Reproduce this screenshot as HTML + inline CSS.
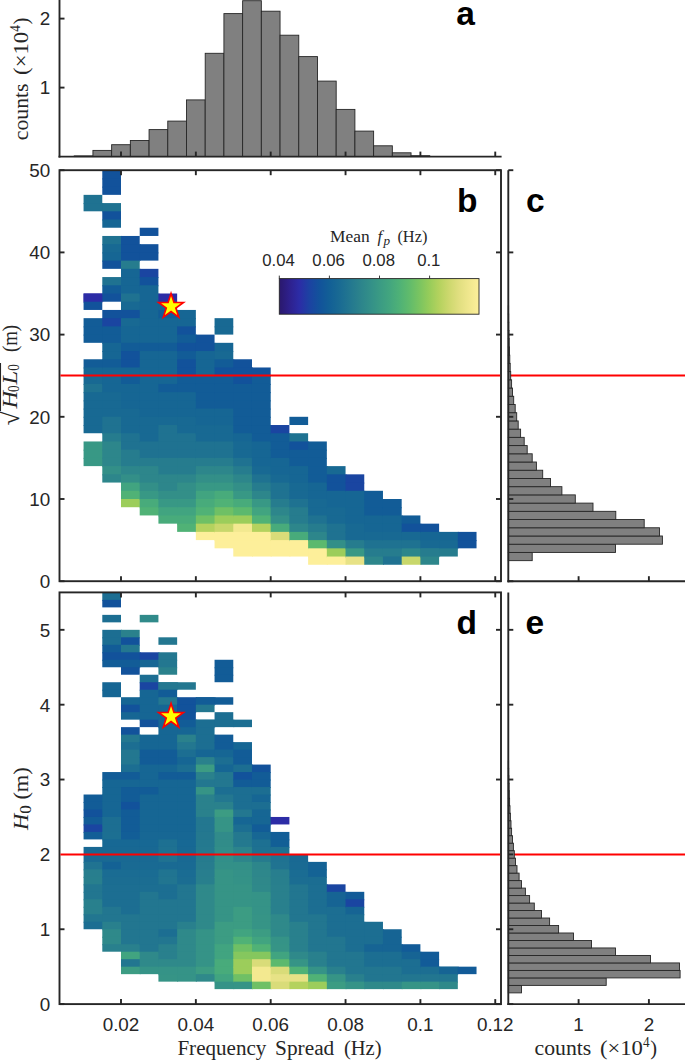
<!DOCTYPE html>
<html><head><meta charset="utf-8"><title>Figure</title>
<style>html,body{margin:0;padding:0;background:#fff;}svg{display:block;}</style>
</head><body>
<svg width="685" height="1060" viewBox="0 0 685 1060">
<rect width="685" height="1060" fill="#ffffff"/>
<g>
<rect x="83.57" y="194.86" width="18.71" height="9.22" fill="#1f7291"/>
<rect x="83.57" y="203.08" width="19.71" height="8.22" fill="#1f7291"/>
<rect x="83.57" y="293.50" width="19.71" height="8.22" fill="#2c2ca6"/>
<rect x="83.57" y="293.50" width="18.71" height="9.22" fill="#2c2ca6"/>
<rect x="83.57" y="301.72" width="18.71" height="8.22" fill="#12529b"/>
<rect x="83.57" y="318.16" width="19.71" height="9.22" fill="#125c97"/>
<rect x="83.57" y="326.38" width="19.71" height="9.22" fill="#125c97"/>
<rect x="83.57" y="334.60" width="19.71" height="8.22" fill="#125c97"/>
<rect x="83.57" y="359.26" width="19.71" height="9.22" fill="#125c97"/>
<rect x="83.57" y="367.48" width="19.71" height="9.22" fill="#166694"/>
<rect x="83.57" y="375.70" width="19.71" height="9.22" fill="#186993"/>
<rect x="83.57" y="383.92" width="19.71" height="9.22" fill="#1f7291"/>
<rect x="83.57" y="392.14" width="19.71" height="9.22" fill="#186993"/>
<rect x="83.57" y="400.36" width="19.71" height="9.22" fill="#186993"/>
<rect x="83.57" y="408.58" width="19.71" height="9.22" fill="#186993"/>
<rect x="83.57" y="416.80" width="19.71" height="9.22" fill="#186993"/>
<rect x="83.57" y="425.02" width="19.71" height="8.22" fill="#186993"/>
<rect x="83.57" y="441.46" width="19.71" height="9.22" fill="#389885"/>
<rect x="83.57" y="449.68" width="19.71" height="9.22" fill="#389885"/>
<rect x="83.57" y="457.90" width="19.71" height="8.22" fill="#389885"/>
<rect x="102.29" y="170.20" width="18.71" height="9.22" fill="#12529b"/>
<rect x="102.29" y="178.42" width="18.71" height="9.22" fill="#12529b"/>
<rect x="102.29" y="186.64" width="18.71" height="8.22" fill="#12529b"/>
<rect x="102.29" y="203.08" width="18.71" height="9.22" fill="#1f7291"/>
<rect x="102.29" y="211.30" width="18.71" height="9.22" fill="#12529b"/>
<rect x="102.29" y="219.52" width="18.71" height="8.22" fill="#166694"/>
<rect x="102.29" y="235.96" width="19.71" height="9.22" fill="#1f7291"/>
<rect x="102.29" y="244.18" width="19.71" height="9.22" fill="#186993"/>
<rect x="102.29" y="252.40" width="19.71" height="9.22" fill="#166694"/>
<rect x="102.29" y="260.62" width="19.71" height="8.22" fill="#12529b"/>
<rect x="102.29" y="277.06" width="19.71" height="9.22" fill="#1f7291"/>
<rect x="102.29" y="285.28" width="19.71" height="9.22" fill="#125c97"/>
<rect x="102.29" y="293.50" width="19.71" height="8.22" fill="#12529b"/>
<rect x="102.29" y="309.94" width="19.71" height="9.22" fill="#12529b"/>
<rect x="102.29" y="318.16" width="19.71" height="9.22" fill="#1a45a1"/>
<rect x="102.29" y="326.38" width="19.71" height="9.22" fill="#125c97"/>
<rect x="102.29" y="334.60" width="19.71" height="9.22" fill="#125c97"/>
<rect x="102.29" y="342.82" width="19.71" height="9.22" fill="#166694"/>
<rect x="102.29" y="351.04" width="19.71" height="9.22" fill="#166694"/>
<rect x="102.29" y="359.26" width="19.71" height="9.22" fill="#125c97"/>
<rect x="102.29" y="367.48" width="19.71" height="9.22" fill="#166694"/>
<rect x="102.29" y="375.70" width="19.71" height="9.22" fill="#166694"/>
<rect x="102.29" y="383.92" width="19.71" height="9.22" fill="#166694"/>
<rect x="102.29" y="392.14" width="19.71" height="9.22" fill="#186993"/>
<rect x="102.29" y="400.36" width="19.71" height="9.22" fill="#186993"/>
<rect x="102.29" y="408.58" width="19.71" height="9.22" fill="#186993"/>
<rect x="102.29" y="416.80" width="19.71" height="9.22" fill="#1f7291"/>
<rect x="102.29" y="425.02" width="19.71" height="9.22" fill="#1f7291"/>
<rect x="102.29" y="433.24" width="19.71" height="9.22" fill="#267c8e"/>
<rect x="102.29" y="441.46" width="19.71" height="9.22" fill="#2d868b"/>
<rect x="102.29" y="449.68" width="19.71" height="9.22" fill="#2d868b"/>
<rect x="102.29" y="457.90" width="19.71" height="9.22" fill="#2d868b"/>
<rect x="102.29" y="466.12" width="19.71" height="9.22" fill="#338f88"/>
<rect x="102.29" y="474.34" width="19.71" height="8.22" fill="#2d868b"/>
<rect x="121.00" y="235.96" width="18.71" height="9.22" fill="#12529b"/>
<rect x="121.00" y="244.18" width="19.71" height="9.22" fill="#12529b"/>
<rect x="121.00" y="252.40" width="19.71" height="8.22" fill="#12529b"/>
<rect x="121.00" y="252.40" width="18.71" height="9.22" fill="#12529b"/>
<rect x="121.00" y="260.62" width="18.71" height="9.22" fill="#267c8e"/>
<rect x="121.00" y="268.84" width="19.71" height="9.22" fill="#166694"/>
<rect x="121.00" y="277.06" width="19.71" height="9.22" fill="#166694"/>
<rect x="121.00" y="285.28" width="19.71" height="9.22" fill="#166694"/>
<rect x="121.00" y="293.50" width="19.71" height="9.22" fill="#1f7291"/>
<rect x="121.00" y="301.72" width="19.71" height="9.22" fill="#186993"/>
<rect x="121.00" y="309.94" width="19.71" height="9.22" fill="#12529b"/>
<rect x="121.00" y="318.16" width="19.71" height="9.22" fill="#186993"/>
<rect x="121.00" y="326.38" width="19.71" height="9.22" fill="#166694"/>
<rect x="121.00" y="334.60" width="19.71" height="9.22" fill="#166694"/>
<rect x="121.00" y="342.82" width="19.71" height="9.22" fill="#125c97"/>
<rect x="121.00" y="351.04" width="19.71" height="9.22" fill="#12529b"/>
<rect x="121.00" y="359.26" width="19.71" height="9.22" fill="#12529b"/>
<rect x="121.00" y="367.48" width="19.71" height="9.22" fill="#166694"/>
<rect x="121.00" y="375.70" width="19.71" height="9.22" fill="#125c97"/>
<rect x="121.00" y="383.92" width="19.71" height="9.22" fill="#166694"/>
<rect x="121.00" y="392.14" width="19.71" height="9.22" fill="#166694"/>
<rect x="121.00" y="400.36" width="19.71" height="9.22" fill="#166694"/>
<rect x="121.00" y="408.58" width="19.71" height="9.22" fill="#186993"/>
<rect x="121.00" y="416.80" width="19.71" height="9.22" fill="#186993"/>
<rect x="121.00" y="425.02" width="19.71" height="9.22" fill="#186993"/>
<rect x="121.00" y="433.24" width="19.71" height="9.22" fill="#1f7291"/>
<rect x="121.00" y="441.46" width="19.71" height="9.22" fill="#1f7291"/>
<rect x="121.00" y="449.68" width="19.71" height="9.22" fill="#267c8e"/>
<rect x="121.00" y="457.90" width="19.71" height="9.22" fill="#267c8e"/>
<rect x="121.00" y="466.12" width="19.71" height="9.22" fill="#2d868b"/>
<rect x="121.00" y="474.34" width="19.71" height="9.22" fill="#338f88"/>
<rect x="121.00" y="482.56" width="19.71" height="9.22" fill="#41a480"/>
<rect x="121.00" y="490.78" width="19.71" height="9.22" fill="#50b276"/>
<rect x="121.00" y="499.00" width="19.71" height="8.22" fill="#9ccd5b"/>
<rect x="139.71" y="227.74" width="18.71" height="8.22" fill="#12529b"/>
<rect x="139.71" y="244.18" width="18.71" height="9.22" fill="#12529b"/>
<rect x="139.71" y="252.40" width="18.71" height="8.22" fill="#12529b"/>
<rect x="139.71" y="268.84" width="18.71" height="9.22" fill="#1a45a1"/>
<rect x="139.71" y="277.06" width="18.71" height="9.22" fill="#12529b"/>
<rect x="139.71" y="285.28" width="18.71" height="9.22" fill="#166694"/>
<rect x="139.71" y="293.50" width="19.71" height="9.22" fill="#166694"/>
<rect x="139.71" y="301.72" width="19.71" height="9.22" fill="#166694"/>
<rect x="139.71" y="309.94" width="19.71" height="9.22" fill="#166694"/>
<rect x="139.71" y="318.16" width="19.71" height="9.22" fill="#166694"/>
<rect x="139.71" y="326.38" width="19.71" height="9.22" fill="#166694"/>
<rect x="139.71" y="334.60" width="19.71" height="9.22" fill="#166694"/>
<rect x="139.71" y="342.82" width="19.71" height="9.22" fill="#125c97"/>
<rect x="139.71" y="351.04" width="19.71" height="9.22" fill="#166694"/>
<rect x="139.71" y="359.26" width="19.71" height="9.22" fill="#166694"/>
<rect x="139.71" y="367.48" width="19.71" height="9.22" fill="#166694"/>
<rect x="139.71" y="375.70" width="19.71" height="9.22" fill="#166694"/>
<rect x="139.71" y="383.92" width="19.71" height="9.22" fill="#166694"/>
<rect x="139.71" y="392.14" width="19.71" height="9.22" fill="#166694"/>
<rect x="139.71" y="400.36" width="19.71" height="9.22" fill="#166694"/>
<rect x="139.71" y="408.58" width="19.71" height="9.22" fill="#166694"/>
<rect x="139.71" y="416.80" width="19.71" height="9.22" fill="#186993"/>
<rect x="139.71" y="425.02" width="19.71" height="9.22" fill="#186993"/>
<rect x="139.71" y="433.24" width="19.71" height="9.22" fill="#186993"/>
<rect x="139.71" y="441.46" width="19.71" height="9.22" fill="#1f7291"/>
<rect x="139.71" y="449.68" width="19.71" height="9.22" fill="#1f7291"/>
<rect x="139.71" y="457.90" width="19.71" height="9.22" fill="#267c8e"/>
<rect x="139.71" y="466.12" width="19.71" height="9.22" fill="#2d868b"/>
<rect x="139.71" y="474.34" width="19.71" height="9.22" fill="#2d868b"/>
<rect x="139.71" y="482.56" width="19.71" height="9.22" fill="#338f88"/>
<rect x="139.71" y="490.78" width="19.71" height="9.22" fill="#389885"/>
<rect x="139.71" y="499.00" width="19.71" height="9.22" fill="#48ab7b"/>
<rect x="139.71" y="507.22" width="19.71" height="8.22" fill="#50b276"/>
<rect x="158.43" y="293.50" width="18.71" height="9.22" fill="#2c2ca6"/>
<rect x="158.43" y="301.72" width="18.71" height="9.22" fill="#166694"/>
<rect x="158.43" y="309.94" width="19.71" height="9.22" fill="#125c97"/>
<rect x="158.43" y="318.16" width="19.71" height="9.22" fill="#166694"/>
<rect x="158.43" y="326.38" width="19.71" height="9.22" fill="#166694"/>
<rect x="158.43" y="334.60" width="19.71" height="9.22" fill="#166694"/>
<rect x="158.43" y="342.82" width="19.71" height="9.22" fill="#125c97"/>
<rect x="158.43" y="351.04" width="19.71" height="9.22" fill="#166694"/>
<rect x="158.43" y="359.26" width="19.71" height="9.22" fill="#166694"/>
<rect x="158.43" y="367.48" width="19.71" height="9.22" fill="#166694"/>
<rect x="158.43" y="375.70" width="19.71" height="9.22" fill="#166694"/>
<rect x="158.43" y="383.92" width="19.71" height="9.22" fill="#125c97"/>
<rect x="158.43" y="392.14" width="19.71" height="9.22" fill="#166694"/>
<rect x="158.43" y="400.36" width="19.71" height="9.22" fill="#166694"/>
<rect x="158.43" y="408.58" width="19.71" height="9.22" fill="#166694"/>
<rect x="158.43" y="416.80" width="19.71" height="9.22" fill="#186993"/>
<rect x="158.43" y="425.02" width="19.71" height="9.22" fill="#1f7291"/>
<rect x="158.43" y="433.24" width="19.71" height="9.22" fill="#1f7291"/>
<rect x="158.43" y="441.46" width="19.71" height="9.22" fill="#1f7291"/>
<rect x="158.43" y="449.68" width="19.71" height="9.22" fill="#1f7291"/>
<rect x="158.43" y="457.90" width="19.71" height="9.22" fill="#267c8e"/>
<rect x="158.43" y="466.12" width="19.71" height="9.22" fill="#267c8e"/>
<rect x="158.43" y="474.34" width="19.71" height="9.22" fill="#2d868b"/>
<rect x="158.43" y="482.56" width="19.71" height="9.22" fill="#2d868b"/>
<rect x="158.43" y="490.78" width="19.71" height="9.22" fill="#338f88"/>
<rect x="158.43" y="499.00" width="19.71" height="9.22" fill="#389885"/>
<rect x="158.43" y="507.22" width="19.71" height="9.22" fill="#41a480"/>
<rect x="158.43" y="515.44" width="19.71" height="8.22" fill="#48ab7b"/>
<rect x="177.14" y="309.94" width="18.71" height="9.22" fill="#166694"/>
<rect x="177.14" y="318.16" width="18.71" height="9.22" fill="#166694"/>
<rect x="177.14" y="326.38" width="18.71" height="9.22" fill="#12529b"/>
<rect x="177.14" y="334.60" width="19.71" height="9.22" fill="#125c97"/>
<rect x="177.14" y="342.82" width="19.71" height="9.22" fill="#12529b"/>
<rect x="177.14" y="351.04" width="19.71" height="9.22" fill="#125c97"/>
<rect x="177.14" y="359.26" width="19.71" height="9.22" fill="#12529b"/>
<rect x="177.14" y="367.48" width="19.71" height="9.22" fill="#12529b"/>
<rect x="177.14" y="375.70" width="19.71" height="9.22" fill="#125c97"/>
<rect x="177.14" y="383.92" width="19.71" height="9.22" fill="#125c97"/>
<rect x="177.14" y="392.14" width="19.71" height="9.22" fill="#166694"/>
<rect x="177.14" y="400.36" width="19.71" height="9.22" fill="#166694"/>
<rect x="177.14" y="408.58" width="19.71" height="9.22" fill="#166694"/>
<rect x="177.14" y="416.80" width="19.71" height="9.22" fill="#186993"/>
<rect x="177.14" y="425.02" width="19.71" height="9.22" fill="#186993"/>
<rect x="177.14" y="433.24" width="19.71" height="9.22" fill="#1f7291"/>
<rect x="177.14" y="441.46" width="19.71" height="9.22" fill="#1f7291"/>
<rect x="177.14" y="449.68" width="19.71" height="9.22" fill="#1f7291"/>
<rect x="177.14" y="457.90" width="19.71" height="9.22" fill="#267c8e"/>
<rect x="177.14" y="466.12" width="19.71" height="9.22" fill="#267c8e"/>
<rect x="177.14" y="474.34" width="19.71" height="9.22" fill="#2d868b"/>
<rect x="177.14" y="482.56" width="19.71" height="9.22" fill="#338f88"/>
<rect x="177.14" y="490.78" width="19.71" height="9.22" fill="#338f88"/>
<rect x="177.14" y="499.00" width="19.71" height="9.22" fill="#389885"/>
<rect x="177.14" y="507.22" width="19.71" height="9.22" fill="#41a480"/>
<rect x="177.14" y="515.44" width="19.71" height="9.22" fill="#48ab7b"/>
<rect x="177.14" y="523.66" width="19.71" height="8.22" fill="#50b276"/>
<rect x="195.85" y="334.60" width="18.71" height="9.22" fill="#12529b"/>
<rect x="195.85" y="342.82" width="19.71" height="9.22" fill="#12529b"/>
<rect x="195.85" y="351.04" width="19.71" height="9.22" fill="#166694"/>
<rect x="195.85" y="359.26" width="19.71" height="9.22" fill="#166694"/>
<rect x="195.85" y="367.48" width="19.71" height="9.22" fill="#166694"/>
<rect x="195.85" y="375.70" width="19.71" height="9.22" fill="#125c97"/>
<rect x="195.85" y="383.92" width="19.71" height="9.22" fill="#125c97"/>
<rect x="195.85" y="392.14" width="19.71" height="9.22" fill="#125c97"/>
<rect x="195.85" y="400.36" width="19.71" height="9.22" fill="#125c97"/>
<rect x="195.85" y="408.58" width="19.71" height="9.22" fill="#166694"/>
<rect x="195.85" y="416.80" width="19.71" height="9.22" fill="#166694"/>
<rect x="195.85" y="425.02" width="19.71" height="9.22" fill="#186993"/>
<rect x="195.85" y="433.24" width="19.71" height="9.22" fill="#186993"/>
<rect x="195.85" y="441.46" width="19.71" height="9.22" fill="#1f7291"/>
<rect x="195.85" y="449.68" width="19.71" height="9.22" fill="#1f7291"/>
<rect x="195.85" y="457.90" width="19.71" height="9.22" fill="#267c8e"/>
<rect x="195.85" y="466.12" width="19.71" height="9.22" fill="#2d868b"/>
<rect x="195.85" y="474.34" width="19.71" height="9.22" fill="#338f88"/>
<rect x="195.85" y="482.56" width="19.71" height="9.22" fill="#389885"/>
<rect x="195.85" y="490.78" width="19.71" height="9.22" fill="#41a480"/>
<rect x="195.85" y="499.00" width="19.71" height="9.22" fill="#48ab7b"/>
<rect x="195.85" y="507.22" width="19.71" height="9.22" fill="#50b276"/>
<rect x="195.85" y="515.44" width="19.71" height="9.22" fill="#6fc065"/>
<rect x="195.85" y="523.66" width="19.71" height="9.22" fill="#b4d25e"/>
<rect x="195.85" y="531.88" width="19.71" height="8.22" fill="#fdef9a"/>
<rect x="214.56" y="318.16" width="18.71" height="9.22" fill="#186993"/>
<rect x="214.56" y="326.38" width="18.71" height="8.22" fill="#186993"/>
<rect x="214.56" y="342.82" width="18.71" height="9.22" fill="#166694"/>
<rect x="214.56" y="351.04" width="18.71" height="9.22" fill="#186993"/>
<rect x="214.56" y="359.26" width="19.71" height="9.22" fill="#125c97"/>
<rect x="214.56" y="367.48" width="19.71" height="9.22" fill="#12529b"/>
<rect x="214.56" y="375.70" width="19.71" height="9.22" fill="#125c97"/>
<rect x="214.56" y="383.92" width="19.71" height="9.22" fill="#125c97"/>
<rect x="214.56" y="392.14" width="19.71" height="9.22" fill="#125c97"/>
<rect x="214.56" y="400.36" width="19.71" height="9.22" fill="#125c97"/>
<rect x="214.56" y="408.58" width="19.71" height="9.22" fill="#166694"/>
<rect x="214.56" y="416.80" width="19.71" height="9.22" fill="#166694"/>
<rect x="214.56" y="425.02" width="19.71" height="9.22" fill="#186993"/>
<rect x="214.56" y="433.24" width="19.71" height="9.22" fill="#186993"/>
<rect x="214.56" y="441.46" width="19.71" height="9.22" fill="#1f7291"/>
<rect x="214.56" y="449.68" width="19.71" height="9.22" fill="#1f7291"/>
<rect x="214.56" y="457.90" width="19.71" height="9.22" fill="#267c8e"/>
<rect x="214.56" y="466.12" width="19.71" height="9.22" fill="#2d868b"/>
<rect x="214.56" y="474.34" width="19.71" height="9.22" fill="#338f88"/>
<rect x="214.56" y="482.56" width="19.71" height="9.22" fill="#389885"/>
<rect x="214.56" y="490.78" width="19.71" height="9.22" fill="#48ab7b"/>
<rect x="214.56" y="499.00" width="19.71" height="9.22" fill="#50b276"/>
<rect x="214.56" y="507.22" width="19.71" height="9.22" fill="#6fc065"/>
<rect x="214.56" y="515.44" width="19.71" height="9.22" fill="#9ccd5b"/>
<rect x="214.56" y="523.66" width="19.71" height="9.22" fill="#c8d76b"/>
<rect x="214.56" y="531.88" width="19.71" height="9.22" fill="#fdef9a"/>
<rect x="214.56" y="540.10" width="19.71" height="8.22" fill="#fdef9a"/>
<rect x="233.28" y="359.26" width="18.71" height="9.22" fill="#12529b"/>
<rect x="233.28" y="367.48" width="19.71" height="9.22" fill="#12529b"/>
<rect x="233.28" y="375.70" width="19.71" height="9.22" fill="#12529b"/>
<rect x="233.28" y="383.92" width="19.71" height="9.22" fill="#125c97"/>
<rect x="233.28" y="392.14" width="19.71" height="9.22" fill="#125c97"/>
<rect x="233.28" y="400.36" width="19.71" height="9.22" fill="#125c97"/>
<rect x="233.28" y="408.58" width="19.71" height="9.22" fill="#125c97"/>
<rect x="233.28" y="416.80" width="19.71" height="9.22" fill="#125c97"/>
<rect x="233.28" y="425.02" width="19.71" height="9.22" fill="#125c97"/>
<rect x="233.28" y="433.24" width="19.71" height="9.22" fill="#166694"/>
<rect x="233.28" y="441.46" width="19.71" height="9.22" fill="#186993"/>
<rect x="233.28" y="449.68" width="19.71" height="9.22" fill="#186993"/>
<rect x="233.28" y="457.90" width="19.71" height="9.22" fill="#1f7291"/>
<rect x="233.28" y="466.12" width="19.71" height="9.22" fill="#267c8e"/>
<rect x="233.28" y="474.34" width="19.71" height="9.22" fill="#2d868b"/>
<rect x="233.28" y="482.56" width="19.71" height="9.22" fill="#338f88"/>
<rect x="233.28" y="490.78" width="19.71" height="9.22" fill="#389885"/>
<rect x="233.28" y="499.00" width="19.71" height="9.22" fill="#48ab7b"/>
<rect x="233.28" y="507.22" width="19.71" height="9.22" fill="#5cb96e"/>
<rect x="233.28" y="515.44" width="19.71" height="9.22" fill="#9ccd5b"/>
<rect x="233.28" y="523.66" width="19.71" height="9.22" fill="#f3e990"/>
<rect x="233.28" y="531.88" width="19.71" height="9.22" fill="#fdef9a"/>
<rect x="233.28" y="540.10" width="19.71" height="9.22" fill="#fdef9a"/>
<rect x="233.28" y="548.32" width="19.71" height="8.22" fill="#fdef9a"/>
<rect x="251.99" y="367.48" width="18.71" height="9.22" fill="#12529b"/>
<rect x="251.99" y="375.70" width="18.71" height="9.22" fill="#125c97"/>
<rect x="251.99" y="383.92" width="18.71" height="9.22" fill="#125c97"/>
<rect x="251.99" y="392.14" width="18.71" height="9.22" fill="#125c97"/>
<rect x="251.99" y="400.36" width="18.71" height="9.22" fill="#125c97"/>
<rect x="251.99" y="408.58" width="18.71" height="9.22" fill="#125c97"/>
<rect x="251.99" y="416.80" width="18.71" height="9.22" fill="#125c97"/>
<rect x="251.99" y="425.02" width="19.71" height="9.22" fill="#125c97"/>
<rect x="251.99" y="433.24" width="19.71" height="9.22" fill="#125c97"/>
<rect x="251.99" y="441.46" width="19.71" height="9.22" fill="#166694"/>
<rect x="251.99" y="449.68" width="19.71" height="9.22" fill="#166694"/>
<rect x="251.99" y="457.90" width="19.71" height="9.22" fill="#166694"/>
<rect x="251.99" y="466.12" width="19.71" height="9.22" fill="#186993"/>
<rect x="251.99" y="474.34" width="19.71" height="9.22" fill="#1f7291"/>
<rect x="251.99" y="482.56" width="19.71" height="9.22" fill="#267c8e"/>
<rect x="251.99" y="490.78" width="19.71" height="9.22" fill="#2d868b"/>
<rect x="251.99" y="499.00" width="19.71" height="9.22" fill="#389885"/>
<rect x="251.99" y="507.22" width="19.71" height="9.22" fill="#41a480"/>
<rect x="251.99" y="515.44" width="19.71" height="9.22" fill="#50b276"/>
<rect x="251.99" y="523.66" width="19.71" height="9.22" fill="#b4d25e"/>
<rect x="251.99" y="531.88" width="19.71" height="9.22" fill="#fdef9a"/>
<rect x="251.99" y="540.10" width="19.71" height="9.22" fill="#fdef9a"/>
<rect x="251.99" y="548.32" width="19.71" height="8.22" fill="#fdef9a"/>
<rect x="270.70" y="425.02" width="18.71" height="9.22" fill="#1a45a1"/>
<rect x="270.70" y="433.24" width="19.71" height="9.22" fill="#125c97"/>
<rect x="270.70" y="441.46" width="19.71" height="9.22" fill="#125c97"/>
<rect x="270.70" y="449.68" width="19.71" height="9.22" fill="#125c97"/>
<rect x="270.70" y="457.90" width="19.71" height="9.22" fill="#166694"/>
<rect x="270.70" y="466.12" width="19.71" height="9.22" fill="#166694"/>
<rect x="270.70" y="474.34" width="19.71" height="9.22" fill="#186993"/>
<rect x="270.70" y="482.56" width="19.71" height="9.22" fill="#1f7291"/>
<rect x="270.70" y="490.78" width="19.71" height="9.22" fill="#1f7291"/>
<rect x="270.70" y="499.00" width="19.71" height="9.22" fill="#267c8e"/>
<rect x="270.70" y="507.22" width="19.71" height="9.22" fill="#2d868b"/>
<rect x="270.70" y="515.44" width="19.71" height="9.22" fill="#338f88"/>
<rect x="270.70" y="523.66" width="19.71" height="9.22" fill="#48ab7b"/>
<rect x="270.70" y="531.88" width="19.71" height="9.22" fill="#d9dc79"/>
<rect x="270.70" y="540.10" width="19.71" height="9.22" fill="#fdef9a"/>
<rect x="270.70" y="548.32" width="19.71" height="8.22" fill="#fdef9a"/>
<rect x="289.41" y="416.80" width="18.71" height="8.22" fill="#125c97"/>
<rect x="289.41" y="433.24" width="18.71" height="9.22" fill="#1f7291"/>
<rect x="289.41" y="441.46" width="19.71" height="9.22" fill="#12529b"/>
<rect x="289.41" y="449.68" width="19.71" height="9.22" fill="#125c97"/>
<rect x="289.41" y="457.90" width="19.71" height="9.22" fill="#125c97"/>
<rect x="289.41" y="466.12" width="19.71" height="9.22" fill="#166694"/>
<rect x="289.41" y="474.34" width="19.71" height="9.22" fill="#166694"/>
<rect x="289.41" y="482.56" width="19.71" height="9.22" fill="#186993"/>
<rect x="289.41" y="490.78" width="19.71" height="9.22" fill="#186993"/>
<rect x="289.41" y="499.00" width="19.71" height="9.22" fill="#1f7291"/>
<rect x="289.41" y="507.22" width="19.71" height="9.22" fill="#267c8e"/>
<rect x="289.41" y="515.44" width="19.71" height="9.22" fill="#267c8e"/>
<rect x="289.41" y="523.66" width="19.71" height="9.22" fill="#2d868b"/>
<rect x="289.41" y="531.88" width="19.71" height="9.22" fill="#48ab7b"/>
<rect x="289.41" y="540.10" width="19.71" height="9.22" fill="#fdef9a"/>
<rect x="289.41" y="548.32" width="19.71" height="8.22" fill="#fdef9a"/>
<rect x="308.12" y="441.46" width="18.71" height="9.22" fill="#125c97"/>
<rect x="308.12" y="449.68" width="18.71" height="9.22" fill="#125c97"/>
<rect x="308.12" y="457.90" width="18.71" height="9.22" fill="#125c97"/>
<rect x="308.12" y="466.12" width="19.71" height="9.22" fill="#125c97"/>
<rect x="308.12" y="474.34" width="19.71" height="9.22" fill="#125c97"/>
<rect x="308.12" y="482.56" width="19.71" height="9.22" fill="#166694"/>
<rect x="308.12" y="490.78" width="19.71" height="9.22" fill="#166694"/>
<rect x="308.12" y="499.00" width="19.71" height="9.22" fill="#186993"/>
<rect x="308.12" y="507.22" width="19.71" height="9.22" fill="#186993"/>
<rect x="308.12" y="515.44" width="19.71" height="9.22" fill="#1f7291"/>
<rect x="308.12" y="523.66" width="19.71" height="9.22" fill="#267c8e"/>
<rect x="308.12" y="531.88" width="19.71" height="9.22" fill="#2d868b"/>
<rect x="308.12" y="540.10" width="19.71" height="9.22" fill="#5cb96e"/>
<rect x="308.12" y="548.32" width="19.71" height="9.22" fill="#fdef9a"/>
<rect x="308.12" y="556.54" width="19.71" height="8.22" fill="#fdef9a"/>
<rect x="326.84" y="466.12" width="18.71" height="9.22" fill="#186993"/>
<rect x="326.84" y="474.34" width="19.71" height="9.22" fill="#12529b"/>
<rect x="326.84" y="482.56" width="19.71" height="9.22" fill="#12529b"/>
<rect x="326.84" y="490.78" width="19.71" height="9.22" fill="#166694"/>
<rect x="326.84" y="499.00" width="19.71" height="9.22" fill="#166694"/>
<rect x="326.84" y="507.22" width="19.71" height="9.22" fill="#186993"/>
<rect x="326.84" y="515.44" width="19.71" height="9.22" fill="#186993"/>
<rect x="326.84" y="523.66" width="19.71" height="9.22" fill="#1f7291"/>
<rect x="326.84" y="531.88" width="19.71" height="9.22" fill="#1f7291"/>
<rect x="326.84" y="540.10" width="19.71" height="9.22" fill="#338f88"/>
<rect x="326.84" y="548.32" width="19.71" height="9.22" fill="#9ccd5b"/>
<rect x="326.84" y="556.54" width="19.71" height="8.22" fill="#fdef9a"/>
<rect x="345.55" y="474.34" width="18.71" height="9.22" fill="#1a45a1"/>
<rect x="345.55" y="482.56" width="18.71" height="9.22" fill="#1a45a1"/>
<rect x="345.55" y="490.78" width="19.71" height="9.22" fill="#166694"/>
<rect x="345.55" y="499.00" width="19.71" height="9.22" fill="#166694"/>
<rect x="345.55" y="507.22" width="19.71" height="9.22" fill="#166694"/>
<rect x="345.55" y="515.44" width="19.71" height="9.22" fill="#166694"/>
<rect x="345.55" y="523.66" width="19.71" height="9.22" fill="#186993"/>
<rect x="345.55" y="531.88" width="19.71" height="9.22" fill="#186993"/>
<rect x="345.55" y="540.10" width="19.71" height="9.22" fill="#267c8e"/>
<rect x="345.55" y="548.32" width="19.71" height="9.22" fill="#389885"/>
<rect x="345.55" y="556.54" width="19.71" height="8.22" fill="#e7e286"/>
<rect x="364.26" y="490.78" width="18.71" height="9.22" fill="#125c97"/>
<rect x="364.26" y="499.00" width="19.71" height="9.22" fill="#125c97"/>
<rect x="364.26" y="507.22" width="19.71" height="9.22" fill="#125c97"/>
<rect x="364.26" y="515.44" width="19.71" height="9.22" fill="#166694"/>
<rect x="364.26" y="523.66" width="19.71" height="9.22" fill="#166694"/>
<rect x="364.26" y="531.88" width="19.71" height="9.22" fill="#186993"/>
<rect x="364.26" y="540.10" width="19.71" height="9.22" fill="#1f7291"/>
<rect x="364.26" y="548.32" width="19.71" height="9.22" fill="#267c8e"/>
<rect x="364.26" y="556.54" width="19.71" height="8.22" fill="#2d868b"/>
<rect x="382.97" y="499.00" width="18.71" height="9.22" fill="#125c97"/>
<rect x="382.97" y="507.22" width="18.71" height="9.22" fill="#125c97"/>
<rect x="382.97" y="515.44" width="19.71" height="9.22" fill="#166694"/>
<rect x="382.97" y="523.66" width="19.71" height="9.22" fill="#166694"/>
<rect x="382.97" y="531.88" width="19.71" height="9.22" fill="#186993"/>
<rect x="382.97" y="540.10" width="19.71" height="9.22" fill="#1f7291"/>
<rect x="382.97" y="548.32" width="19.71" height="9.22" fill="#267c8e"/>
<rect x="382.97" y="556.54" width="19.71" height="8.22" fill="#1f7291"/>
<rect x="401.69" y="515.44" width="18.71" height="9.22" fill="#125c97"/>
<rect x="401.69" y="523.66" width="19.71" height="9.22" fill="#12529b"/>
<rect x="401.69" y="531.88" width="19.71" height="9.22" fill="#186993"/>
<rect x="401.69" y="540.10" width="19.71" height="9.22" fill="#1f7291"/>
<rect x="401.69" y="548.32" width="19.71" height="9.22" fill="#2d868b"/>
<rect x="401.69" y="556.54" width="19.71" height="8.22" fill="#c8d76b"/>
<rect x="420.40" y="523.66" width="18.71" height="9.22" fill="#12529b"/>
<rect x="420.40" y="531.88" width="19.71" height="9.22" fill="#166694"/>
<rect x="420.40" y="540.10" width="19.71" height="9.22" fill="#186993"/>
<rect x="420.40" y="548.32" width="19.71" height="8.22" fill="#267c8e"/>
<rect x="420.40" y="548.32" width="18.71" height="9.22" fill="#267c8e"/>
<rect x="420.40" y="556.54" width="18.71" height="8.22" fill="#2d868b"/>
<rect x="439.11" y="531.88" width="19.71" height="9.22" fill="#166694"/>
<rect x="439.11" y="540.10" width="19.71" height="8.22" fill="#186993"/>
<rect x="439.11" y="540.10" width="18.71" height="9.22" fill="#186993"/>
<rect x="439.11" y="548.32" width="18.71" height="8.22" fill="#267c8e"/>
<rect x="457.82" y="531.88" width="18.71" height="9.22" fill="#12529b"/>
<rect x="457.82" y="540.10" width="18.71" height="8.22" fill="#12529b"/>
</g>
<g>
<rect x="83.57" y="794.51" width="19.71" height="8.49" fill="#125c97"/>
<rect x="83.57" y="801.99" width="19.71" height="8.49" fill="#125c97"/>
<rect x="83.57" y="809.48" width="19.71" height="8.49" fill="#12529b"/>
<rect x="83.57" y="816.96" width="19.71" height="8.49" fill="#125c97"/>
<rect x="83.57" y="824.45" width="19.71" height="8.49" fill="#1a45a1"/>
<rect x="83.57" y="831.93" width="19.71" height="7.49" fill="#125e97"/>
<rect x="83.57" y="846.91" width="19.71" height="8.49" fill="#186893"/>
<rect x="83.57" y="854.39" width="19.71" height="8.49" fill="#196993"/>
<rect x="83.57" y="861.88" width="19.71" height="8.49" fill="#207391"/>
<rect x="83.57" y="869.36" width="19.71" height="8.49" fill="#287e8e"/>
<rect x="83.57" y="876.85" width="19.71" height="8.49" fill="#287f8d"/>
<rect x="83.57" y="884.33" width="19.71" height="8.49" fill="#227690"/>
<rect x="83.57" y="891.82" width="19.71" height="8.49" fill="#227690"/>
<rect x="83.57" y="899.30" width="19.71" height="8.49" fill="#29808d"/>
<rect x="83.57" y="906.79" width="19.71" height="8.49" fill="#29808d"/>
<rect x="83.57" y="914.27" width="19.71" height="8.49" fill="#227690"/>
<rect x="83.57" y="921.76" width="19.71" height="7.49" fill="#1c6e92"/>
<rect x="102.29" y="592.40" width="18.71" height="8.49" fill="#1c6e92"/>
<rect x="102.29" y="599.89" width="18.71" height="7.49" fill="#12529b"/>
<rect x="102.29" y="614.86" width="18.71" height="7.49" fill="#1c6e92"/>
<rect x="102.29" y="629.83" width="19.71" height="8.49" fill="#1c6e92"/>
<rect x="102.29" y="637.31" width="19.71" height="8.49" fill="#1c6e92"/>
<rect x="102.29" y="644.80" width="19.71" height="8.49" fill="#125c97"/>
<rect x="102.29" y="652.28" width="19.71" height="8.49" fill="#12529b"/>
<rect x="102.29" y="659.77" width="19.71" height="7.49" fill="#125c97"/>
<rect x="102.29" y="682.23" width="18.71" height="8.49" fill="#166694"/>
<rect x="102.29" y="689.71" width="18.71" height="7.49" fill="#166694"/>
<rect x="102.29" y="772.05" width="19.71" height="8.49" fill="#125c97"/>
<rect x="102.29" y="779.54" width="19.71" height="8.49" fill="#166694"/>
<rect x="102.29" y="787.02" width="19.71" height="8.49" fill="#166694"/>
<rect x="102.29" y="794.51" width="19.71" height="8.49" fill="#166694"/>
<rect x="102.29" y="801.99" width="19.71" height="8.49" fill="#166694"/>
<rect x="102.29" y="809.48" width="19.71" height="8.49" fill="#166694"/>
<rect x="102.29" y="816.96" width="19.71" height="8.49" fill="#1c6e92"/>
<rect x="102.29" y="824.45" width="19.71" height="8.49" fill="#1c6e92"/>
<rect x="102.29" y="831.93" width="19.71" height="8.49" fill="#1c6f92"/>
<rect x="102.29" y="839.42" width="19.71" height="8.49" fill="#176894"/>
<rect x="102.29" y="846.91" width="19.71" height="8.49" fill="#186893"/>
<rect x="102.29" y="854.39" width="19.71" height="8.49" fill="#196993"/>
<rect x="102.29" y="861.88" width="19.71" height="8.49" fill="#146295"/>
<rect x="102.29" y="869.36" width="19.71" height="8.49" fill="#1a6c93"/>
<rect x="102.29" y="876.85" width="19.71" height="8.49" fill="#1b6d92"/>
<rect x="102.29" y="884.33" width="19.71" height="8.49" fill="#1c6e92"/>
<rect x="102.29" y="891.82" width="19.71" height="8.49" fill="#1c6e92"/>
<rect x="102.29" y="899.30" width="19.71" height="8.49" fill="#1c6e92"/>
<rect x="102.29" y="906.79" width="19.71" height="8.49" fill="#227690"/>
<rect x="102.29" y="914.27" width="19.71" height="8.49" fill="#227690"/>
<rect x="102.29" y="921.76" width="19.71" height="8.49" fill="#29808d"/>
<rect x="102.29" y="929.25" width="19.71" height="8.49" fill="#2f898a"/>
<rect x="102.29" y="936.73" width="19.71" height="8.49" fill="#2f898a"/>
<rect x="102.29" y="944.22" width="19.71" height="7.49" fill="#29808d"/>
<rect x="121.00" y="629.83" width="18.71" height="8.49" fill="#2a818c"/>
<rect x="121.00" y="637.31" width="18.71" height="8.49" fill="#12529b"/>
<rect x="121.00" y="644.80" width="18.71" height="8.49" fill="#237790"/>
<rect x="121.00" y="652.28" width="19.71" height="8.49" fill="#12529b"/>
<rect x="121.00" y="659.77" width="19.71" height="7.49" fill="#125c97"/>
<rect x="121.00" y="659.77" width="18.71" height="8.49" fill="#125c97"/>
<rect x="121.00" y="667.25" width="18.71" height="7.49" fill="#12529b"/>
<rect x="121.00" y="697.20" width="19.71" height="8.49" fill="#166694"/>
<rect x="121.00" y="704.68" width="19.71" height="8.49" fill="#12529b"/>
<rect x="121.00" y="712.17" width="19.71" height="7.49" fill="#166694"/>
<rect x="121.00" y="727.14" width="18.71" height="8.49" fill="#12529b"/>
<rect x="121.00" y="734.62" width="19.71" height="8.49" fill="#237790"/>
<rect x="121.00" y="742.11" width="19.71" height="8.49" fill="#1c6e92"/>
<rect x="121.00" y="749.59" width="19.71" height="8.49" fill="#237790"/>
<rect x="121.00" y="757.08" width="19.71" height="8.49" fill="#237790"/>
<rect x="121.00" y="764.57" width="19.71" height="8.49" fill="#1c6e92"/>
<rect x="121.00" y="772.05" width="19.71" height="8.49" fill="#125c97"/>
<rect x="121.00" y="779.54" width="19.71" height="8.49" fill="#166694"/>
<rect x="121.00" y="787.02" width="19.71" height="8.49" fill="#125c97"/>
<rect x="121.00" y="794.51" width="19.71" height="8.49" fill="#125c97"/>
<rect x="121.00" y="801.99" width="19.71" height="8.49" fill="#12529b"/>
<rect x="121.00" y="809.48" width="19.71" height="8.49" fill="#125c97"/>
<rect x="121.00" y="816.96" width="19.71" height="8.49" fill="#125c97"/>
<rect x="121.00" y="824.45" width="19.71" height="8.49" fill="#125c97"/>
<rect x="121.00" y="831.93" width="19.71" height="8.49" fill="#125e97"/>
<rect x="121.00" y="839.42" width="19.71" height="8.49" fill="#176894"/>
<rect x="121.00" y="846.91" width="19.71" height="8.49" fill="#186893"/>
<rect x="121.00" y="854.39" width="19.71" height="8.49" fill="#196993"/>
<rect x="121.00" y="861.88" width="19.71" height="8.49" fill="#196a93"/>
<rect x="121.00" y="869.36" width="19.71" height="8.49" fill="#1a6c93"/>
<rect x="121.00" y="876.85" width="19.71" height="8.49" fill="#1b6d92"/>
<rect x="121.00" y="884.33" width="19.71" height="8.49" fill="#1c6e92"/>
<rect x="121.00" y="891.82" width="19.71" height="8.49" fill="#1c6e92"/>
<rect x="121.00" y="899.30" width="19.71" height="8.49" fill="#1c6e92"/>
<rect x="121.00" y="906.79" width="19.71" height="8.49" fill="#1c6e92"/>
<rect x="121.00" y="914.27" width="19.71" height="8.49" fill="#227690"/>
<rect x="121.00" y="921.76" width="19.71" height="8.49" fill="#227690"/>
<rect x="121.00" y="929.25" width="19.71" height="8.49" fill="#227690"/>
<rect x="121.00" y="936.73" width="19.71" height="8.49" fill="#227690"/>
<rect x="121.00" y="944.22" width="19.71" height="8.49" fill="#29808d"/>
<rect x="121.00" y="951.70" width="19.71" height="8.49" fill="#41a480"/>
<rect x="121.00" y="959.19" width="19.71" height="8.49" fill="#227690"/>
<rect x="121.00" y="966.67" width="19.71" height="7.49" fill="#3c9c83"/>
<rect x="139.71" y="614.86" width="18.71" height="7.49" fill="#308a8a"/>
<rect x="139.71" y="652.28" width="19.71" height="8.49" fill="#1a45a1"/>
<rect x="139.71" y="659.77" width="19.71" height="7.49" fill="#166694"/>
<rect x="139.71" y="674.74" width="18.71" height="8.49" fill="#1c6e92"/>
<rect x="139.71" y="682.23" width="19.71" height="8.49" fill="#1a45a1"/>
<rect x="139.71" y="689.71" width="19.71" height="8.49" fill="#166694"/>
<rect x="139.71" y="697.20" width="19.71" height="8.49" fill="#166694"/>
<rect x="139.71" y="704.68" width="19.71" height="8.49" fill="#166694"/>
<rect x="139.71" y="712.17" width="19.71" height="8.49" fill="#166694"/>
<rect x="139.71" y="719.65" width="19.71" height="7.49" fill="#12529b"/>
<rect x="139.71" y="734.62" width="19.71" height="8.49" fill="#166694"/>
<rect x="139.71" y="742.11" width="19.71" height="8.49" fill="#166694"/>
<rect x="139.71" y="749.59" width="19.71" height="8.49" fill="#125c97"/>
<rect x="139.71" y="757.08" width="19.71" height="8.49" fill="#125c97"/>
<rect x="139.71" y="764.57" width="19.71" height="8.49" fill="#166694"/>
<rect x="139.71" y="772.05" width="19.71" height="8.49" fill="#166694"/>
<rect x="139.71" y="779.54" width="19.71" height="8.49" fill="#166694"/>
<rect x="139.71" y="787.02" width="19.71" height="8.49" fill="#125c97"/>
<rect x="139.71" y="794.51" width="19.71" height="8.49" fill="#166694"/>
<rect x="139.71" y="801.99" width="19.71" height="8.49" fill="#166694"/>
<rect x="139.71" y="809.48" width="19.71" height="8.49" fill="#166694"/>
<rect x="139.71" y="816.96" width="19.71" height="8.49" fill="#166694"/>
<rect x="139.71" y="824.45" width="19.71" height="8.49" fill="#166694"/>
<rect x="139.71" y="831.93" width="19.71" height="8.49" fill="#176794"/>
<rect x="139.71" y="839.42" width="19.71" height="8.49" fill="#176894"/>
<rect x="139.71" y="846.91" width="19.71" height="8.49" fill="#186893"/>
<rect x="139.71" y="854.39" width="19.71" height="8.49" fill="#196993"/>
<rect x="139.71" y="861.88" width="19.71" height="8.49" fill="#196a93"/>
<rect x="139.71" y="869.36" width="19.71" height="8.49" fill="#1a6c93"/>
<rect x="139.71" y="876.85" width="19.71" height="8.49" fill="#1b6d92"/>
<rect x="139.71" y="884.33" width="19.71" height="8.49" fill="#1c6e92"/>
<rect x="139.71" y="891.82" width="19.71" height="8.49" fill="#227690"/>
<rect x="139.71" y="899.30" width="19.71" height="8.49" fill="#227690"/>
<rect x="139.71" y="906.79" width="19.71" height="8.49" fill="#227690"/>
<rect x="139.71" y="914.27" width="19.71" height="8.49" fill="#227690"/>
<rect x="139.71" y="921.76" width="19.71" height="8.49" fill="#227690"/>
<rect x="139.71" y="929.25" width="19.71" height="8.49" fill="#227690"/>
<rect x="139.71" y="936.73" width="19.71" height="8.49" fill="#227690"/>
<rect x="139.71" y="944.22" width="19.71" height="8.49" fill="#227690"/>
<rect x="139.71" y="951.70" width="19.71" height="8.49" fill="#2f898a"/>
<rect x="139.71" y="959.19" width="19.71" height="8.49" fill="#2f898a"/>
<rect x="139.71" y="966.67" width="19.71" height="7.49" fill="#359387"/>
<rect x="158.43" y="637.31" width="18.71" height="7.49" fill="#237790"/>
<rect x="158.43" y="652.28" width="18.71" height="8.49" fill="#237790"/>
<rect x="158.43" y="659.77" width="18.71" height="8.49" fill="#237790"/>
<rect x="158.43" y="667.25" width="18.71" height="7.49" fill="#2a818c"/>
<rect x="158.43" y="682.23" width="19.71" height="7.49" fill="#237790"/>
<rect x="158.43" y="682.23" width="18.71" height="8.49" fill="#237790"/>
<rect x="158.43" y="689.71" width="18.71" height="8.49" fill="#125c97"/>
<rect x="158.43" y="697.20" width="19.71" height="8.49" fill="#237790"/>
<rect x="158.43" y="704.68" width="19.71" height="8.49" fill="#166694"/>
<rect x="158.43" y="712.17" width="19.71" height="8.49" fill="#166694"/>
<rect x="158.43" y="719.65" width="19.71" height="8.49" fill="#166694"/>
<rect x="158.43" y="727.14" width="19.71" height="8.49" fill="#166694"/>
<rect x="158.43" y="734.62" width="19.71" height="8.49" fill="#166694"/>
<rect x="158.43" y="742.11" width="19.71" height="8.49" fill="#166694"/>
<rect x="158.43" y="749.59" width="19.71" height="8.49" fill="#125c97"/>
<rect x="158.43" y="757.08" width="19.71" height="8.49" fill="#125c97"/>
<rect x="158.43" y="764.57" width="19.71" height="8.49" fill="#166694"/>
<rect x="158.43" y="772.05" width="19.71" height="8.49" fill="#125c97"/>
<rect x="158.43" y="779.54" width="19.71" height="8.49" fill="#166694"/>
<rect x="158.43" y="787.02" width="19.71" height="8.49" fill="#166694"/>
<rect x="158.43" y="794.51" width="19.71" height="8.49" fill="#166694"/>
<rect x="158.43" y="801.99" width="19.71" height="8.49" fill="#166694"/>
<rect x="158.43" y="809.48" width="19.71" height="8.49" fill="#166694"/>
<rect x="158.43" y="816.96" width="19.71" height="8.49" fill="#166694"/>
<rect x="158.43" y="824.45" width="19.71" height="8.49" fill="#166694"/>
<rect x="158.43" y="831.93" width="19.71" height="8.49" fill="#176794"/>
<rect x="158.43" y="839.42" width="19.71" height="8.49" fill="#1d7092"/>
<rect x="158.43" y="846.91" width="19.71" height="8.49" fill="#1e7191"/>
<rect x="158.43" y="854.39" width="19.71" height="8.49" fill="#1f7291"/>
<rect x="158.43" y="861.88" width="19.71" height="8.49" fill="#196a93"/>
<rect x="158.43" y="869.36" width="19.71" height="8.49" fill="#207491"/>
<rect x="158.43" y="876.85" width="19.71" height="8.49" fill="#217590"/>
<rect x="158.43" y="884.33" width="19.71" height="8.49" fill="#1c6e92"/>
<rect x="158.43" y="891.82" width="19.71" height="8.49" fill="#1c6e92"/>
<rect x="158.43" y="899.30" width="19.71" height="8.49" fill="#227690"/>
<rect x="158.43" y="906.79" width="19.71" height="8.49" fill="#227690"/>
<rect x="158.43" y="914.27" width="19.71" height="8.49" fill="#227690"/>
<rect x="158.43" y="921.76" width="19.71" height="8.49" fill="#227690"/>
<rect x="158.43" y="929.25" width="19.71" height="8.49" fill="#1c6e92"/>
<rect x="158.43" y="936.73" width="19.71" height="8.49" fill="#227690"/>
<rect x="158.43" y="944.22" width="19.71" height="8.49" fill="#29808d"/>
<rect x="158.43" y="951.70" width="19.71" height="8.49" fill="#29808d"/>
<rect x="158.43" y="959.19" width="19.71" height="8.49" fill="#2f898a"/>
<rect x="158.43" y="966.67" width="19.71" height="8.49" fill="#359387"/>
<rect x="158.43" y="974.16" width="19.71" height="7.49" fill="#369486"/>
<rect x="177.14" y="682.23" width="18.71" height="7.49" fill="#237790"/>
<rect x="177.14" y="697.20" width="19.71" height="8.49" fill="#12529b"/>
<rect x="177.14" y="704.68" width="19.71" height="7.49" fill="#12529b"/>
<rect x="177.14" y="704.68" width="18.71" height="8.49" fill="#12529b"/>
<rect x="177.14" y="712.17" width="18.71" height="8.49" fill="#12529b"/>
<rect x="177.14" y="719.65" width="19.71" height="8.49" fill="#125c97"/>
<rect x="177.14" y="727.14" width="19.71" height="8.49" fill="#166694"/>
<rect x="177.14" y="734.62" width="19.71" height="8.49" fill="#2a818c"/>
<rect x="177.14" y="742.11" width="19.71" height="8.49" fill="#237790"/>
<rect x="177.14" y="749.59" width="19.71" height="8.49" fill="#1c6e92"/>
<rect x="177.14" y="757.08" width="19.71" height="8.49" fill="#166694"/>
<rect x="177.14" y="764.57" width="19.71" height="8.49" fill="#1c6e92"/>
<rect x="177.14" y="772.05" width="19.71" height="8.49" fill="#125c97"/>
<rect x="177.14" y="779.54" width="19.71" height="8.49" fill="#166694"/>
<rect x="177.14" y="787.02" width="19.71" height="8.49" fill="#166694"/>
<rect x="177.14" y="794.51" width="19.71" height="8.49" fill="#166694"/>
<rect x="177.14" y="801.99" width="19.71" height="8.49" fill="#166694"/>
<rect x="177.14" y="809.48" width="19.71" height="8.49" fill="#166694"/>
<rect x="177.14" y="816.96" width="19.71" height="8.49" fill="#166694"/>
<rect x="177.14" y="824.45" width="19.71" height="8.49" fill="#166694"/>
<rect x="177.14" y="831.93" width="19.71" height="8.49" fill="#176794"/>
<rect x="177.14" y="839.42" width="19.71" height="8.49" fill="#176894"/>
<rect x="177.14" y="846.91" width="19.71" height="8.49" fill="#186893"/>
<rect x="177.14" y="854.39" width="19.71" height="8.49" fill="#196993"/>
<rect x="177.14" y="861.88" width="19.71" height="8.49" fill="#196a93"/>
<rect x="177.14" y="869.36" width="19.71" height="8.49" fill="#1a6c93"/>
<rect x="177.14" y="876.85" width="19.71" height="8.49" fill="#1b6d92"/>
<rect x="177.14" y="884.33" width="19.71" height="8.49" fill="#227690"/>
<rect x="177.14" y="891.82" width="19.71" height="8.49" fill="#227690"/>
<rect x="177.14" y="899.30" width="19.71" height="8.49" fill="#227690"/>
<rect x="177.14" y="906.79" width="19.71" height="8.49" fill="#227690"/>
<rect x="177.14" y="914.27" width="19.71" height="8.49" fill="#227690"/>
<rect x="177.14" y="921.76" width="19.71" height="8.49" fill="#29808d"/>
<rect x="177.14" y="929.25" width="19.71" height="8.49" fill="#2f898a"/>
<rect x="177.14" y="936.73" width="19.71" height="8.49" fill="#2f898a"/>
<rect x="177.14" y="944.22" width="19.71" height="8.49" fill="#2f898a"/>
<rect x="177.14" y="951.70" width="19.71" height="8.49" fill="#2f898a"/>
<rect x="177.14" y="959.19" width="19.71" height="8.49" fill="#2f898a"/>
<rect x="177.14" y="966.67" width="19.71" height="8.49" fill="#359387"/>
<rect x="177.14" y="974.16" width="19.71" height="7.49" fill="#359387"/>
<rect x="195.85" y="697.20" width="19.71" height="7.49" fill="#125c97"/>
<rect x="195.85" y="697.20" width="18.71" height="8.49" fill="#125c97"/>
<rect x="195.85" y="704.68" width="18.71" height="7.49" fill="#237790"/>
<rect x="195.85" y="719.65" width="19.71" height="7.49" fill="#1c6e92"/>
<rect x="195.85" y="719.65" width="18.71" height="8.49" fill="#1c6e92"/>
<rect x="195.85" y="727.14" width="18.71" height="8.49" fill="#1c6e92"/>
<rect x="195.85" y="734.62" width="19.71" height="8.49" fill="#1c6e92"/>
<rect x="195.85" y="742.11" width="19.71" height="8.49" fill="#1c6e92"/>
<rect x="195.85" y="749.59" width="19.71" height="8.49" fill="#166694"/>
<rect x="195.85" y="757.08" width="19.71" height="8.49" fill="#2a818c"/>
<rect x="195.85" y="764.57" width="19.71" height="8.49" fill="#3c9c83"/>
<rect x="195.85" y="772.05" width="19.71" height="8.49" fill="#2a818c"/>
<rect x="195.85" y="779.54" width="19.71" height="8.49" fill="#237790"/>
<rect x="195.85" y="787.02" width="19.71" height="8.49" fill="#369486"/>
<rect x="195.85" y="794.51" width="19.71" height="8.49" fill="#2a818c"/>
<rect x="195.85" y="801.99" width="19.71" height="8.49" fill="#2a818c"/>
<rect x="195.85" y="809.48" width="19.71" height="8.49" fill="#2a818c"/>
<rect x="195.85" y="816.96" width="19.71" height="8.49" fill="#237790"/>
<rect x="195.85" y="824.45" width="19.71" height="8.49" fill="#237790"/>
<rect x="195.85" y="831.93" width="19.71" height="8.49" fill="#24788f"/>
<rect x="195.85" y="839.42" width="19.71" height="8.49" fill="#24798f"/>
<rect x="195.85" y="846.91" width="19.71" height="8.49" fill="#257a8f"/>
<rect x="195.85" y="854.39" width="19.71" height="8.49" fill="#267b8e"/>
<rect x="195.85" y="861.88" width="19.71" height="8.49" fill="#277c8e"/>
<rect x="195.85" y="869.36" width="19.71" height="8.49" fill="#287e8e"/>
<rect x="195.85" y="876.85" width="19.71" height="8.49" fill="#287f8d"/>
<rect x="195.85" y="884.33" width="19.71" height="8.49" fill="#2f898a"/>
<rect x="195.85" y="891.82" width="19.71" height="8.49" fill="#2f898a"/>
<rect x="195.85" y="899.30" width="19.71" height="8.49" fill="#2f898a"/>
<rect x="195.85" y="906.79" width="19.71" height="8.49" fill="#2f898a"/>
<rect x="195.85" y="914.27" width="19.71" height="8.49" fill="#2f898a"/>
<rect x="195.85" y="921.76" width="19.71" height="8.49" fill="#2f898a"/>
<rect x="195.85" y="929.25" width="19.71" height="8.49" fill="#359387"/>
<rect x="195.85" y="936.73" width="19.71" height="8.49" fill="#359387"/>
<rect x="195.85" y="944.22" width="19.71" height="8.49" fill="#359387"/>
<rect x="195.85" y="951.70" width="19.71" height="8.49" fill="#359387"/>
<rect x="195.85" y="959.19" width="19.71" height="8.49" fill="#359387"/>
<rect x="195.85" y="966.67" width="19.71" height="8.49" fill="#3c9c83"/>
<rect x="195.85" y="974.16" width="19.71" height="7.49" fill="#2f898a"/>
<rect x="214.56" y="659.77" width="18.71" height="8.49" fill="#125c97"/>
<rect x="214.56" y="667.25" width="18.71" height="8.49" fill="#125c97"/>
<rect x="214.56" y="674.74" width="18.71" height="7.49" fill="#125c97"/>
<rect x="214.56" y="697.20" width="18.71" height="7.49" fill="#125c97"/>
<rect x="214.56" y="712.17" width="18.71" height="8.49" fill="#1c6e92"/>
<rect x="214.56" y="719.65" width="19.71" height="7.49" fill="#1c6e92"/>
<rect x="214.56" y="734.62" width="18.71" height="8.49" fill="#125c97"/>
<rect x="214.56" y="742.11" width="19.71" height="8.49" fill="#125c97"/>
<rect x="214.56" y="749.59" width="19.71" height="8.49" fill="#166694"/>
<rect x="214.56" y="757.08" width="19.71" height="8.49" fill="#1c6e92"/>
<rect x="214.56" y="764.57" width="19.71" height="8.49" fill="#166694"/>
<rect x="214.56" y="772.05" width="19.71" height="8.49" fill="#237790"/>
<rect x="214.56" y="779.54" width="19.71" height="8.49" fill="#237790"/>
<rect x="214.56" y="787.02" width="19.71" height="8.49" fill="#1c6e92"/>
<rect x="214.56" y="794.51" width="19.71" height="8.49" fill="#237790"/>
<rect x="214.56" y="801.99" width="19.71" height="8.49" fill="#2a818c"/>
<rect x="214.56" y="809.48" width="19.71" height="8.49" fill="#3c9c83"/>
<rect x="214.56" y="816.96" width="19.71" height="8.49" fill="#369486"/>
<rect x="214.56" y="824.45" width="19.71" height="8.49" fill="#369486"/>
<rect x="214.56" y="831.93" width="19.71" height="8.49" fill="#318b8a"/>
<rect x="214.56" y="839.42" width="19.71" height="8.49" fill="#318c89"/>
<rect x="214.56" y="846.91" width="19.71" height="8.49" fill="#328e89"/>
<rect x="214.56" y="854.39" width="19.71" height="8.49" fill="#328f89"/>
<rect x="214.56" y="861.88" width="19.71" height="8.49" fill="#339088"/>
<rect x="214.56" y="869.36" width="19.71" height="8.49" fill="#369486"/>
<rect x="214.56" y="876.85" width="19.71" height="8.49" fill="#369486"/>
<rect x="214.56" y="884.33" width="19.71" height="8.49" fill="#369486"/>
<rect x="214.56" y="891.82" width="19.71" height="8.49" fill="#369486"/>
<rect x="214.56" y="899.30" width="19.71" height="8.49" fill="#369486"/>
<rect x="214.56" y="906.79" width="19.71" height="8.49" fill="#369486"/>
<rect x="214.56" y="914.27" width="19.71" height="8.49" fill="#369486"/>
<rect x="214.56" y="921.76" width="19.71" height="8.49" fill="#3c9c83"/>
<rect x="214.56" y="929.25" width="19.71" height="8.49" fill="#3c9c83"/>
<rect x="214.56" y="936.73" width="19.71" height="8.49" fill="#3c9c83"/>
<rect x="214.56" y="944.22" width="19.71" height="8.49" fill="#41a480"/>
<rect x="214.56" y="951.70" width="19.71" height="8.49" fill="#41a480"/>
<rect x="214.56" y="959.19" width="19.71" height="8.49" fill="#48ab7b"/>
<rect x="214.56" y="966.67" width="19.71" height="8.49" fill="#48ab7b"/>
<rect x="214.56" y="974.16" width="19.71" height="8.49" fill="#41a480"/>
<rect x="214.56" y="981.64" width="19.71" height="7.49" fill="#359387"/>
<rect x="233.28" y="719.65" width="18.71" height="7.49" fill="#1c6e92"/>
<rect x="233.28" y="742.11" width="18.71" height="8.49" fill="#166694"/>
<rect x="233.28" y="749.59" width="18.71" height="8.49" fill="#125c97"/>
<rect x="233.28" y="757.08" width="18.71" height="8.49" fill="#125c97"/>
<rect x="233.28" y="764.57" width="19.71" height="8.49" fill="#1c6e92"/>
<rect x="233.28" y="772.05" width="19.71" height="8.49" fill="#12529b"/>
<rect x="233.28" y="779.54" width="19.71" height="8.49" fill="#125c97"/>
<rect x="233.28" y="787.02" width="19.71" height="8.49" fill="#1c6e92"/>
<rect x="233.28" y="794.51" width="19.71" height="8.49" fill="#1c6e92"/>
<rect x="233.28" y="801.99" width="19.71" height="8.49" fill="#1c6e92"/>
<rect x="233.28" y="809.48" width="19.71" height="8.49" fill="#237790"/>
<rect x="233.28" y="816.96" width="19.71" height="8.49" fill="#166694"/>
<rect x="233.28" y="824.45" width="19.71" height="8.49" fill="#1c6e92"/>
<rect x="233.28" y="831.93" width="19.71" height="8.49" fill="#24788f"/>
<rect x="233.28" y="839.42" width="19.71" height="8.49" fill="#24798f"/>
<rect x="233.28" y="846.91" width="19.71" height="8.49" fill="#2c848c"/>
<rect x="233.28" y="854.39" width="19.71" height="8.49" fill="#2d858b"/>
<rect x="233.28" y="861.88" width="19.71" height="8.49" fill="#339088"/>
<rect x="233.28" y="869.36" width="19.71" height="8.49" fill="#349188"/>
<rect x="233.28" y="876.85" width="19.71" height="8.49" fill="#349287"/>
<rect x="233.28" y="884.33" width="19.71" height="8.49" fill="#369486"/>
<rect x="233.28" y="891.82" width="19.71" height="8.49" fill="#369486"/>
<rect x="233.28" y="899.30" width="19.71" height="8.49" fill="#369486"/>
<rect x="233.28" y="906.79" width="19.71" height="8.49" fill="#3c9c83"/>
<rect x="233.28" y="914.27" width="19.71" height="8.49" fill="#3c9c83"/>
<rect x="233.28" y="921.76" width="19.71" height="8.49" fill="#3c9c83"/>
<rect x="233.28" y="929.25" width="19.71" height="8.49" fill="#41a480"/>
<rect x="233.28" y="936.73" width="19.71" height="8.49" fill="#50b276"/>
<rect x="233.28" y="944.22" width="19.71" height="8.49" fill="#6fc065"/>
<rect x="233.28" y="951.70" width="19.71" height="8.49" fill="#85c75e"/>
<rect x="233.28" y="959.19" width="19.71" height="8.49" fill="#9ccd5b"/>
<rect x="233.28" y="966.67" width="19.71" height="8.49" fill="#9ccd5b"/>
<rect x="233.28" y="974.16" width="19.71" height="8.49" fill="#6fc065"/>
<rect x="233.28" y="981.64" width="19.71" height="7.49" fill="#369486"/>
<rect x="251.99" y="764.57" width="18.71" height="8.49" fill="#12529b"/>
<rect x="251.99" y="772.05" width="18.71" height="8.49" fill="#125c97"/>
<rect x="251.99" y="779.54" width="18.71" height="8.49" fill="#125c97"/>
<rect x="251.99" y="787.02" width="18.71" height="8.49" fill="#1c6e92"/>
<rect x="251.99" y="794.51" width="18.71" height="8.49" fill="#166694"/>
<rect x="251.99" y="801.99" width="18.71" height="8.49" fill="#1c6e92"/>
<rect x="251.99" y="809.48" width="18.71" height="8.49" fill="#166694"/>
<rect x="251.99" y="816.96" width="19.71" height="7.49" fill="#166694"/>
<rect x="251.99" y="816.96" width="18.71" height="8.49" fill="#166694"/>
<rect x="251.99" y="824.45" width="18.71" height="8.49" fill="#125c97"/>
<rect x="251.99" y="831.93" width="19.71" height="8.49" fill="#176794"/>
<rect x="251.99" y="839.42" width="19.71" height="8.49" fill="#1d7092"/>
<rect x="251.99" y="846.91" width="19.71" height="8.49" fill="#1e7191"/>
<rect x="251.99" y="854.39" width="19.71" height="8.49" fill="#267b8e"/>
<rect x="251.99" y="861.88" width="19.71" height="8.49" fill="#2d868b"/>
<rect x="251.99" y="869.36" width="19.71" height="8.49" fill="#2e878b"/>
<rect x="251.99" y="876.85" width="19.71" height="8.49" fill="#2f888a"/>
<rect x="251.99" y="884.33" width="19.71" height="8.49" fill="#2f898a"/>
<rect x="251.99" y="891.82" width="19.71" height="8.49" fill="#359387"/>
<rect x="251.99" y="899.30" width="19.71" height="8.49" fill="#359387"/>
<rect x="251.99" y="906.79" width="19.71" height="8.49" fill="#359387"/>
<rect x="251.99" y="914.27" width="19.71" height="8.49" fill="#369486"/>
<rect x="251.99" y="921.76" width="19.71" height="8.49" fill="#369486"/>
<rect x="251.99" y="929.25" width="19.71" height="8.49" fill="#3c9c83"/>
<rect x="251.99" y="936.73" width="19.71" height="8.49" fill="#41a480"/>
<rect x="251.99" y="944.22" width="19.71" height="8.49" fill="#50b276"/>
<rect x="251.99" y="951.70" width="19.71" height="8.49" fill="#85c75e"/>
<rect x="251.99" y="959.19" width="19.71" height="8.49" fill="#d9dc79"/>
<rect x="251.99" y="966.67" width="19.71" height="8.49" fill="#f3e990"/>
<rect x="251.99" y="974.16" width="19.71" height="8.49" fill="#f3e990"/>
<rect x="251.99" y="981.64" width="19.71" height="7.49" fill="#6fc065"/>
<rect x="270.70" y="816.96" width="18.71" height="7.49" fill="#2c2ca6"/>
<rect x="270.70" y="831.93" width="18.71" height="8.49" fill="#125e97"/>
<rect x="270.70" y="839.42" width="18.71" height="8.49" fill="#125f96"/>
<rect x="270.70" y="846.91" width="18.71" height="8.49" fill="#1e7191"/>
<rect x="270.70" y="854.39" width="19.71" height="8.49" fill="#1f7291"/>
<rect x="270.70" y="861.88" width="19.71" height="8.49" fill="#207391"/>
<rect x="270.70" y="869.36" width="19.71" height="8.49" fill="#287e8e"/>
<rect x="270.70" y="876.85" width="19.71" height="8.49" fill="#287f8d"/>
<rect x="270.70" y="884.33" width="19.71" height="8.49" fill="#29808d"/>
<rect x="270.70" y="891.82" width="19.71" height="8.49" fill="#29808d"/>
<rect x="270.70" y="899.30" width="19.71" height="8.49" fill="#29808d"/>
<rect x="270.70" y="906.79" width="19.71" height="8.49" fill="#29808d"/>
<rect x="270.70" y="914.27" width="19.71" height="8.49" fill="#2f898a"/>
<rect x="270.70" y="921.76" width="19.71" height="8.49" fill="#2f898a"/>
<rect x="270.70" y="929.25" width="19.71" height="8.49" fill="#2f898a"/>
<rect x="270.70" y="936.73" width="19.71" height="8.49" fill="#359387"/>
<rect x="270.70" y="944.22" width="19.71" height="8.49" fill="#369486"/>
<rect x="270.70" y="951.70" width="19.71" height="8.49" fill="#41a480"/>
<rect x="270.70" y="959.19" width="19.71" height="8.49" fill="#5cb96e"/>
<rect x="270.70" y="966.67" width="19.71" height="8.49" fill="#d9dc79"/>
<rect x="270.70" y="974.16" width="19.71" height="8.49" fill="#e7e286"/>
<rect x="270.70" y="981.64" width="19.71" height="7.49" fill="#d9dc79"/>
<rect x="289.41" y="854.39" width="18.71" height="8.49" fill="#196993"/>
<rect x="289.41" y="861.88" width="19.71" height="8.49" fill="#196a93"/>
<rect x="289.41" y="869.36" width="19.71" height="8.49" fill="#1a6c93"/>
<rect x="289.41" y="876.85" width="19.71" height="8.49" fill="#1b6d92"/>
<rect x="289.41" y="884.33" width="19.71" height="8.49" fill="#227690"/>
<rect x="289.41" y="891.82" width="19.71" height="8.49" fill="#227690"/>
<rect x="289.41" y="899.30" width="19.71" height="8.49" fill="#227690"/>
<rect x="289.41" y="906.79" width="19.71" height="8.49" fill="#227690"/>
<rect x="289.41" y="914.27" width="19.71" height="8.49" fill="#227690"/>
<rect x="289.41" y="921.76" width="19.71" height="8.49" fill="#29808d"/>
<rect x="289.41" y="929.25" width="19.71" height="8.49" fill="#29808d"/>
<rect x="289.41" y="936.73" width="19.71" height="8.49" fill="#29808d"/>
<rect x="289.41" y="944.22" width="19.71" height="8.49" fill="#29808d"/>
<rect x="289.41" y="951.70" width="19.71" height="8.49" fill="#2f898a"/>
<rect x="289.41" y="959.19" width="19.71" height="8.49" fill="#369486"/>
<rect x="289.41" y="966.67" width="19.71" height="8.49" fill="#50b276"/>
<rect x="289.41" y="974.16" width="19.71" height="8.49" fill="#e7e286"/>
<rect x="289.41" y="981.64" width="19.71" height="7.49" fill="#b4d25e"/>
<rect x="308.12" y="861.88" width="18.71" height="8.49" fill="#146295"/>
<rect x="308.12" y="869.36" width="18.71" height="8.49" fill="#146395"/>
<rect x="308.12" y="876.85" width="18.71" height="8.49" fill="#1b6d92"/>
<rect x="308.12" y="884.33" width="19.71" height="8.49" fill="#1c6e92"/>
<rect x="308.12" y="891.82" width="19.71" height="8.49" fill="#1c6e92"/>
<rect x="308.12" y="899.30" width="19.71" height="8.49" fill="#1c6e92"/>
<rect x="308.12" y="906.79" width="19.71" height="8.49" fill="#1c6e92"/>
<rect x="308.12" y="914.27" width="19.71" height="8.49" fill="#227690"/>
<rect x="308.12" y="921.76" width="19.71" height="8.49" fill="#227690"/>
<rect x="308.12" y="929.25" width="19.71" height="8.49" fill="#227690"/>
<rect x="308.12" y="936.73" width="19.71" height="8.49" fill="#227690"/>
<rect x="308.12" y="944.22" width="19.71" height="8.49" fill="#227690"/>
<rect x="308.12" y="951.70" width="19.71" height="8.49" fill="#29808d"/>
<rect x="308.12" y="959.19" width="19.71" height="8.49" fill="#29808d"/>
<rect x="308.12" y="966.67" width="19.71" height="8.49" fill="#359387"/>
<rect x="308.12" y="974.16" width="19.71" height="8.49" fill="#50b276"/>
<rect x="308.12" y="981.64" width="19.71" height="7.49" fill="#9ccd5b"/>
<rect x="326.84" y="884.33" width="18.71" height="8.49" fill="#1a45a1"/>
<rect x="326.84" y="891.82" width="19.71" height="8.49" fill="#166494"/>
<rect x="326.84" y="899.30" width="19.71" height="8.49" fill="#166494"/>
<rect x="326.84" y="906.79" width="19.71" height="8.49" fill="#1c6e92"/>
<rect x="326.84" y="914.27" width="19.71" height="8.49" fill="#1c6e92"/>
<rect x="326.84" y="921.76" width="19.71" height="8.49" fill="#1c6e92"/>
<rect x="326.84" y="929.25" width="19.71" height="8.49" fill="#1c6e92"/>
<rect x="326.84" y="936.73" width="19.71" height="8.49" fill="#227690"/>
<rect x="326.84" y="944.22" width="19.71" height="8.49" fill="#227690"/>
<rect x="326.84" y="951.70" width="19.71" height="8.49" fill="#227690"/>
<rect x="326.84" y="959.19" width="19.71" height="8.49" fill="#227690"/>
<rect x="326.84" y="966.67" width="19.71" height="8.49" fill="#29808d"/>
<rect x="326.84" y="974.16" width="19.71" height="8.49" fill="#369486"/>
<rect x="326.84" y="981.64" width="19.71" height="7.49" fill="#3c9c83"/>
<rect x="345.55" y="891.82" width="18.71" height="8.49" fill="#125b98"/>
<rect x="345.55" y="899.30" width="18.71" height="8.49" fill="#1a45a1"/>
<rect x="345.55" y="906.79" width="18.71" height="8.49" fill="#166494"/>
<rect x="345.55" y="914.27" width="18.71" height="8.49" fill="#1c6e92"/>
<rect x="345.55" y="921.76" width="19.71" height="8.49" fill="#1c6e92"/>
<rect x="345.55" y="929.25" width="19.71" height="8.49" fill="#1c6e92"/>
<rect x="345.55" y="936.73" width="19.71" height="8.49" fill="#1c6e92"/>
<rect x="345.55" y="944.22" width="19.71" height="8.49" fill="#1c6e92"/>
<rect x="345.55" y="951.70" width="19.71" height="8.49" fill="#227690"/>
<rect x="345.55" y="959.19" width="19.71" height="8.49" fill="#227690"/>
<rect x="345.55" y="966.67" width="19.71" height="8.49" fill="#227690"/>
<rect x="345.55" y="974.16" width="19.71" height="8.49" fill="#29808d"/>
<rect x="345.55" y="981.64" width="19.71" height="7.49" fill="#359387"/>
<rect x="364.26" y="921.76" width="18.71" height="8.49" fill="#1c6e92"/>
<rect x="364.26" y="929.25" width="19.71" height="8.49" fill="#1c6e92"/>
<rect x="364.26" y="936.73" width="19.71" height="8.49" fill="#1c6e92"/>
<rect x="364.26" y="944.22" width="19.71" height="8.49" fill="#166494"/>
<rect x="364.26" y="951.70" width="19.71" height="8.49" fill="#1c6e92"/>
<rect x="364.26" y="959.19" width="19.71" height="8.49" fill="#1c6e92"/>
<rect x="364.26" y="966.67" width="19.71" height="8.49" fill="#227690"/>
<rect x="364.26" y="974.16" width="19.71" height="8.49" fill="#227690"/>
<rect x="364.26" y="981.64" width="19.71" height="7.49" fill="#2f898a"/>
<rect x="382.97" y="929.25" width="18.71" height="8.49" fill="#166494"/>
<rect x="382.97" y="936.73" width="18.71" height="8.49" fill="#166494"/>
<rect x="382.97" y="944.22" width="19.71" height="8.49" fill="#166494"/>
<rect x="382.97" y="951.70" width="19.71" height="8.49" fill="#1c6e92"/>
<rect x="382.97" y="959.19" width="19.71" height="8.49" fill="#1c6e92"/>
<rect x="382.97" y="966.67" width="19.71" height="8.49" fill="#227690"/>
<rect x="382.97" y="974.16" width="19.71" height="8.49" fill="#227690"/>
<rect x="382.97" y="981.64" width="19.71" height="7.49" fill="#2f898a"/>
<rect x="401.69" y="944.22" width="18.71" height="8.49" fill="#125b98"/>
<rect x="401.69" y="951.70" width="19.71" height="8.49" fill="#166494"/>
<rect x="401.69" y="959.19" width="19.71" height="8.49" fill="#1c6e92"/>
<rect x="401.69" y="966.67" width="19.71" height="8.49" fill="#1c6e92"/>
<rect x="401.69" y="974.16" width="19.71" height="8.49" fill="#227690"/>
<rect x="401.69" y="981.64" width="19.71" height="7.49" fill="#369486"/>
<rect x="420.40" y="951.70" width="18.71" height="8.49" fill="#125b98"/>
<rect x="420.40" y="959.19" width="18.71" height="8.49" fill="#125b98"/>
<rect x="420.40" y="966.67" width="19.71" height="8.49" fill="#1c6e92"/>
<rect x="420.40" y="974.16" width="19.71" height="8.49" fill="#227690"/>
<rect x="420.40" y="981.64" width="19.71" height="7.49" fill="#359387"/>
<rect x="439.11" y="966.67" width="19.71" height="7.49" fill="#166494"/>
<rect x="439.11" y="966.67" width="18.71" height="8.49" fill="#166494"/>
<rect x="439.11" y="974.16" width="18.71" height="8.49" fill="#227690"/>
<rect x="439.11" y="981.64" width="18.71" height="7.49" fill="#2f898a"/>
<rect x="457.82" y="966.67" width="18.71" height="7.49" fill="#125b98"/>
</g>
<rect x="74.22" y="155.90" width="18.71" height="0.70" fill="#808080" stroke="#262626" stroke-width="0.9"/>
<rect x="92.93" y="150.40" width="18.71" height="6.20" fill="#808080" stroke="#262626" stroke-width="0.9"/>
<rect x="111.64" y="144.70" width="18.71" height="11.90" fill="#808080" stroke="#262626" stroke-width="0.9"/>
<rect x="130.36" y="140.50" width="18.71" height="16.10" fill="#808080" stroke="#262626" stroke-width="0.9"/>
<rect x="149.07" y="129.60" width="18.71" height="27.00" fill="#808080" stroke="#262626" stroke-width="0.9"/>
<rect x="167.78" y="121.10" width="18.71" height="35.50" fill="#808080" stroke="#262626" stroke-width="0.9"/>
<rect x="186.49" y="99.90" width="18.71" height="56.70" fill="#808080" stroke="#262626" stroke-width="0.9"/>
<rect x="205.21" y="53.30" width="18.71" height="103.30" fill="#808080" stroke="#262626" stroke-width="0.9"/>
<rect x="223.92" y="13.60" width="18.71" height="143.00" fill="#808080" stroke="#262626" stroke-width="0.9"/>
<rect x="242.63" y="0.70" width="18.71" height="155.90" fill="#808080" stroke="#262626" stroke-width="0.9"/>
<rect x="261.34" y="11.20" width="18.71" height="145.40" fill="#808080" stroke="#262626" stroke-width="0.9"/>
<rect x="280.06" y="35.20" width="18.71" height="121.40" fill="#808080" stroke="#262626" stroke-width="0.9"/>
<rect x="298.77" y="56.60" width="18.71" height="100.00" fill="#808080" stroke="#262626" stroke-width="0.9"/>
<rect x="317.48" y="81.10" width="18.71" height="75.50" fill="#808080" stroke="#262626" stroke-width="0.9"/>
<rect x="336.19" y="109.40" width="18.71" height="47.20" fill="#808080" stroke="#262626" stroke-width="0.9"/>
<rect x="354.91" y="131.10" width="18.71" height="25.50" fill="#808080" stroke="#262626" stroke-width="0.9"/>
<rect x="373.62" y="145.80" width="18.71" height="10.80" fill="#808080" stroke="#262626" stroke-width="0.9"/>
<rect x="392.33" y="152.80" width="18.71" height="3.80" fill="#808080" stroke="#262626" stroke-width="0.9"/>
<rect x="411.04" y="155.70" width="18.71" height="0.90" fill="#808080" stroke="#262626" stroke-width="0.9"/>
<line x1="509.20" y1="375.50" x2="685.00" y2="375.50" stroke="#ff0000" stroke-width="2.0" />
<line x1="509.20" y1="854.39" x2="685.00" y2="854.39" stroke="#ff0000" stroke-width="2.0" />
<rect x="508.30" y="552.43" width="23.90" height="8.22" fill="#808080" stroke="#262626" stroke-width="0.9"/>
<rect x="508.30" y="544.21" width="107.20" height="8.22" fill="#808080" stroke="#262626" stroke-width="0.9"/>
<rect x="508.30" y="535.99" width="154.10" height="8.22" fill="#808080" stroke="#262626" stroke-width="0.9"/>
<rect x="508.30" y="527.77" width="151.20" height="8.22" fill="#808080" stroke="#262626" stroke-width="0.9"/>
<rect x="508.30" y="519.55" width="135.90" height="8.22" fill="#808080" stroke="#262626" stroke-width="0.9"/>
<rect x="508.30" y="511.33" width="107.50" height="8.22" fill="#808080" stroke="#262626" stroke-width="0.9"/>
<rect x="508.30" y="503.11" width="84.70" height="8.22" fill="#808080" stroke="#262626" stroke-width="0.9"/>
<rect x="508.30" y="494.89" width="67.00" height="8.22" fill="#808080" stroke="#262626" stroke-width="0.9"/>
<rect x="508.30" y="486.67" width="53.60" height="8.22" fill="#808080" stroke="#262626" stroke-width="0.9"/>
<rect x="508.30" y="478.45" width="42.20" height="8.22" fill="#808080" stroke="#262626" stroke-width="0.9"/>
<rect x="508.30" y="470.23" width="34.40" height="8.22" fill="#808080" stroke="#262626" stroke-width="0.9"/>
<rect x="508.30" y="462.01" width="28.10" height="8.22" fill="#808080" stroke="#262626" stroke-width="0.9"/>
<rect x="508.30" y="453.79" width="23.90" height="8.22" fill="#808080" stroke="#262626" stroke-width="0.9"/>
<rect x="508.30" y="445.57" width="18.90" height="8.22" fill="#808080" stroke="#262626" stroke-width="0.9"/>
<rect x="508.30" y="437.35" width="15.90" height="8.22" fill="#808080" stroke="#262626" stroke-width="0.9"/>
<rect x="508.30" y="429.13" width="12.30" height="8.22" fill="#808080" stroke="#262626" stroke-width="0.9"/>
<rect x="508.30" y="420.91" width="9.90" height="8.22" fill="#808080" stroke="#262626" stroke-width="0.9"/>
<rect x="508.30" y="412.69" width="8.40" height="8.22" fill="#808080" stroke="#262626" stroke-width="0.9"/>
<rect x="508.30" y="404.47" width="6.90" height="8.22" fill="#808080" stroke="#262626" stroke-width="0.9"/>
<rect x="508.30" y="396.25" width="5.40" height="8.22" fill="#808080" stroke="#262626" stroke-width="0.9"/>
<rect x="508.30" y="388.03" width="4.20" height="8.22" fill="#808080" stroke="#262626" stroke-width="0.9"/>
<rect x="508.30" y="379.81" width="3.30" height="8.22" fill="#808080" stroke="#262626" stroke-width="0.9"/>
<rect x="508.30" y="371.59" width="2.40" height="8.22" fill="#808080" stroke="#262626" stroke-width="0.9"/>
<rect x="508.30" y="363.37" width="1.90" height="8.22" fill="#808080" stroke="#262626" stroke-width="0.9"/>
<rect x="508.30" y="355.15" width="1.50" height="8.22" fill="#808080" stroke="#262626" stroke-width="0.9"/>
<rect x="508.30" y="346.93" width="1.20" height="8.22" fill="#808080" stroke="#262626" stroke-width="0.9"/>
<rect x="508.30" y="338.71" width="0.90" height="8.22" fill="#808080" stroke="#262626" stroke-width="0.9"/>
<rect x="508.30" y="330.49" width="0.70" height="8.22" fill="#808080" stroke="#262626" stroke-width="0.9"/>
<rect x="508.30" y="322.27" width="0.50" height="8.22" fill="#808080" stroke="#262626" stroke-width="0.9"/>
<rect x="508.30" y="314.05" width="0.40" height="8.22" fill="#808080" stroke="#262626" stroke-width="0.9"/>
<rect x="508.30" y="305.83" width="0.30" height="8.22" fill="#808080" stroke="#262626" stroke-width="0.9"/>
<rect x="508.30" y="985.39" width="13.20" height="7.49" fill="#808080" stroke="#262626" stroke-width="0.9"/>
<rect x="508.30" y="977.90" width="97.90" height="7.49" fill="#808080" stroke="#262626" stroke-width="0.9"/>
<rect x="508.30" y="970.42" width="171.80" height="7.49" fill="#808080" stroke="#262626" stroke-width="0.9"/>
<rect x="508.30" y="962.93" width="171.20" height="7.49" fill="#808080" stroke="#262626" stroke-width="0.9"/>
<rect x="508.30" y="955.44" width="142.20" height="7.49" fill="#808080" stroke="#262626" stroke-width="0.9"/>
<rect x="508.30" y="947.96" width="107.20" height="7.49" fill="#808080" stroke="#262626" stroke-width="0.9"/>
<rect x="508.30" y="940.47" width="83.20" height="7.49" fill="#808080" stroke="#262626" stroke-width="0.9"/>
<rect x="508.30" y="932.99" width="65.20" height="7.49" fill="#808080" stroke="#262626" stroke-width="0.9"/>
<rect x="508.30" y="925.50" width="50.30" height="7.49" fill="#808080" stroke="#262626" stroke-width="0.9"/>
<rect x="508.30" y="918.02" width="41.30" height="7.49" fill="#808080" stroke="#262626" stroke-width="0.9"/>
<rect x="508.30" y="910.53" width="33.20" height="7.49" fill="#808080" stroke="#262626" stroke-width="0.9"/>
<rect x="508.30" y="903.05" width="26.00" height="7.49" fill="#808080" stroke="#262626" stroke-width="0.9"/>
<rect x="508.30" y="895.56" width="21.30" height="7.49" fill="#808080" stroke="#262626" stroke-width="0.9"/>
<rect x="508.30" y="888.08" width="17.10" height="7.49" fill="#808080" stroke="#262626" stroke-width="0.9"/>
<rect x="508.30" y="880.59" width="13.20" height="7.49" fill="#808080" stroke="#262626" stroke-width="0.9"/>
<rect x="508.30" y="873.10" width="10.80" height="7.49" fill="#808080" stroke="#262626" stroke-width="0.9"/>
<rect x="508.30" y="865.62" width="8.70" height="7.49" fill="#808080" stroke="#262626" stroke-width="0.9"/>
<rect x="508.30" y="858.13" width="7.20" height="7.49" fill="#808080" stroke="#262626" stroke-width="0.9"/>
<rect x="508.30" y="850.65" width="6.00" height="7.49" fill="#808080" stroke="#262626" stroke-width="0.9"/>
<rect x="508.30" y="843.16" width="5.10" height="7.49" fill="#808080" stroke="#262626" stroke-width="0.9"/>
<rect x="508.30" y="835.68" width="4.20" height="7.49" fill="#808080" stroke="#262626" stroke-width="0.9"/>
<rect x="508.30" y="828.19" width="3.30" height="7.49" fill="#808080" stroke="#262626" stroke-width="0.9"/>
<rect x="508.30" y="820.71" width="2.70" height="7.49" fill="#808080" stroke="#262626" stroke-width="0.9"/>
<rect x="508.30" y="813.22" width="2.10" height="7.49" fill="#808080" stroke="#262626" stroke-width="0.9"/>
<rect x="508.30" y="805.74" width="1.70" height="7.49" fill="#808080" stroke="#262626" stroke-width="0.9"/>
<rect x="508.30" y="798.25" width="1.30" height="7.49" fill="#808080" stroke="#262626" stroke-width="0.9"/>
<rect x="508.30" y="790.76" width="1.00" height="7.49" fill="#808080" stroke="#262626" stroke-width="0.9"/>
<rect x="508.30" y="783.28" width="0.80" height="7.49" fill="#808080" stroke="#262626" stroke-width="0.9"/>
<rect x="508.30" y="775.79" width="0.60" height="7.49" fill="#808080" stroke="#262626" stroke-width="0.9"/>
<rect x="508.30" y="768.31" width="0.40" height="7.49" fill="#808080" stroke="#262626" stroke-width="0.9"/>
<rect x="508.30" y="760.82" width="0.30" height="7.49" fill="#808080" stroke="#262626" stroke-width="0.9"/>
<line x1="59.50" y1="0.00" x2="59.50" y2="157.55" stroke="#262626" stroke-width="1.9" />
<line x1="58.55" y1="156.60" x2="501.60" y2="156.60" stroke="#262626" stroke-width="1.9" />
<line x1="121.00" y1="156.60" x2="121.00" y2="151.60" stroke="#262626" stroke-width="1.9" />
<line x1="195.85" y1="156.60" x2="195.85" y2="151.60" stroke="#262626" stroke-width="1.9" />
<line x1="270.70" y1="156.60" x2="270.70" y2="151.60" stroke="#262626" stroke-width="1.9" />
<line x1="345.55" y1="156.60" x2="345.55" y2="151.60" stroke="#262626" stroke-width="1.9" />
<line x1="420.40" y1="156.60" x2="420.40" y2="151.60" stroke="#262626" stroke-width="1.9" />
<line x1="495.25" y1="156.60" x2="495.25" y2="151.60" stroke="#262626" stroke-width="1.9" />
<line x1="59.50" y1="87.60" x2="64.50" y2="87.60" stroke="#262626" stroke-width="1.9" />
<line x1="59.50" y1="18.60" x2="64.50" y2="18.60" stroke="#262626" stroke-width="1.9" />
<rect x="59.5" y="170.2" width="441.50" height="411.00" fill="none" stroke="#262626" stroke-width="1.9"/>
<line x1="121.00" y1="581.20" x2="121.00" y2="576.20" stroke="#262626" stroke-width="1.9" />
<line x1="121.00" y1="170.20" x2="121.00" y2="175.20" stroke="#262626" stroke-width="1.9" />
<line x1="195.85" y1="581.20" x2="195.85" y2="576.20" stroke="#262626" stroke-width="1.9" />
<line x1="195.85" y1="170.20" x2="195.85" y2="175.20" stroke="#262626" stroke-width="1.9" />
<line x1="270.70" y1="581.20" x2="270.70" y2="576.20" stroke="#262626" stroke-width="1.9" />
<line x1="270.70" y1="170.20" x2="270.70" y2="175.20" stroke="#262626" stroke-width="1.9" />
<line x1="345.55" y1="581.20" x2="345.55" y2="576.20" stroke="#262626" stroke-width="1.9" />
<line x1="345.55" y1="170.20" x2="345.55" y2="175.20" stroke="#262626" stroke-width="1.9" />
<line x1="420.40" y1="581.20" x2="420.40" y2="576.20" stroke="#262626" stroke-width="1.9" />
<line x1="420.40" y1="170.20" x2="420.40" y2="175.20" stroke="#262626" stroke-width="1.9" />
<line x1="495.25" y1="581.20" x2="495.25" y2="576.20" stroke="#262626" stroke-width="1.9" />
<line x1="495.25" y1="170.20" x2="495.25" y2="175.20" stroke="#262626" stroke-width="1.9" />
<line x1="59.50" y1="581.20" x2="64.50" y2="581.20" stroke="#262626" stroke-width="1.9" />
<line x1="501.00" y1="581.20" x2="496.00" y2="581.20" stroke="#262626" stroke-width="1.9" />
<line x1="59.50" y1="499.00" x2="64.50" y2="499.00" stroke="#262626" stroke-width="1.9" />
<line x1="501.00" y1="499.00" x2="496.00" y2="499.00" stroke="#262626" stroke-width="1.9" />
<line x1="59.50" y1="416.80" x2="64.50" y2="416.80" stroke="#262626" stroke-width="1.9" />
<line x1="501.00" y1="416.80" x2="496.00" y2="416.80" stroke="#262626" stroke-width="1.9" />
<line x1="59.50" y1="334.60" x2="64.50" y2="334.60" stroke="#262626" stroke-width="1.9" />
<line x1="501.00" y1="334.60" x2="496.00" y2="334.60" stroke="#262626" stroke-width="1.9" />
<line x1="59.50" y1="252.40" x2="64.50" y2="252.40" stroke="#262626" stroke-width="1.9" />
<line x1="501.00" y1="252.40" x2="496.00" y2="252.40" stroke="#262626" stroke-width="1.9" />
<line x1="59.50" y1="170.20" x2="64.50" y2="170.20" stroke="#262626" stroke-width="1.9" />
<line x1="501.00" y1="170.20" x2="496.00" y2="170.20" stroke="#262626" stroke-width="1.9" />
<line x1="508.30" y1="170.20" x2="508.30" y2="582.15" stroke="#262626" stroke-width="1.9" />
<line x1="507.35" y1="581.20" x2="685.00" y2="581.20" stroke="#262626" stroke-width="1.9" />
<line x1="508.30" y1="581.20" x2="513.30" y2="581.20" stroke="#262626" stroke-width="1.9" />
<line x1="508.30" y1="499.00" x2="513.30" y2="499.00" stroke="#262626" stroke-width="1.9" />
<line x1="508.30" y1="416.80" x2="513.30" y2="416.80" stroke="#262626" stroke-width="1.9" />
<line x1="508.30" y1="334.60" x2="513.30" y2="334.60" stroke="#262626" stroke-width="1.9" />
<line x1="508.30" y1="252.40" x2="513.30" y2="252.40" stroke="#262626" stroke-width="1.9" />
<line x1="508.30" y1="170.20" x2="513.30" y2="170.20" stroke="#262626" stroke-width="1.9" />
<line x1="578.60" y1="581.20" x2="578.60" y2="576.20" stroke="#262626" stroke-width="1.9" />
<line x1="648.90" y1="581.20" x2="648.90" y2="576.20" stroke="#262626" stroke-width="1.9" />
<rect x="59.5" y="592.4" width="441.50" height="411.70" fill="none" stroke="#262626" stroke-width="1.9"/>
<line x1="121.00" y1="1004.10" x2="121.00" y2="999.10" stroke="#262626" stroke-width="1.9" />
<line x1="121.00" y1="592.40" x2="121.00" y2="597.40" stroke="#262626" stroke-width="1.9" />
<line x1="195.85" y1="1004.10" x2="195.85" y2="999.10" stroke="#262626" stroke-width="1.9" />
<line x1="195.85" y1="592.40" x2="195.85" y2="597.40" stroke="#262626" stroke-width="1.9" />
<line x1="270.70" y1="1004.10" x2="270.70" y2="999.10" stroke="#262626" stroke-width="1.9" />
<line x1="270.70" y1="592.40" x2="270.70" y2="597.40" stroke="#262626" stroke-width="1.9" />
<line x1="345.55" y1="1004.10" x2="345.55" y2="999.10" stroke="#262626" stroke-width="1.9" />
<line x1="345.55" y1="592.40" x2="345.55" y2="597.40" stroke="#262626" stroke-width="1.9" />
<line x1="420.40" y1="1004.10" x2="420.40" y2="999.10" stroke="#262626" stroke-width="1.9" />
<line x1="420.40" y1="592.40" x2="420.40" y2="597.40" stroke="#262626" stroke-width="1.9" />
<line x1="495.25" y1="1004.10" x2="495.25" y2="999.10" stroke="#262626" stroke-width="1.9" />
<line x1="495.25" y1="592.40" x2="495.25" y2="597.40" stroke="#262626" stroke-width="1.9" />
<line x1="59.50" y1="1004.10" x2="64.50" y2="1004.10" stroke="#262626" stroke-width="1.9" />
<line x1="501.00" y1="1004.10" x2="496.00" y2="1004.10" stroke="#262626" stroke-width="1.9" />
<line x1="59.50" y1="929.25" x2="64.50" y2="929.25" stroke="#262626" stroke-width="1.9" />
<line x1="501.00" y1="929.25" x2="496.00" y2="929.25" stroke="#262626" stroke-width="1.9" />
<line x1="59.50" y1="779.54" x2="64.50" y2="779.54" stroke="#262626" stroke-width="1.9" />
<line x1="501.00" y1="779.54" x2="496.00" y2="779.54" stroke="#262626" stroke-width="1.9" />
<line x1="59.50" y1="704.68" x2="64.50" y2="704.68" stroke="#262626" stroke-width="1.9" />
<line x1="501.00" y1="704.68" x2="496.00" y2="704.68" stroke="#262626" stroke-width="1.9" />
<line x1="59.50" y1="629.83" x2="64.50" y2="629.83" stroke="#262626" stroke-width="1.9" />
<line x1="501.00" y1="629.83" x2="496.00" y2="629.83" stroke="#262626" stroke-width="1.9" />
<line x1="508.30" y1="592.40" x2="508.30" y2="1005.05" stroke="#262626" stroke-width="1.9" />
<line x1="507.35" y1="1004.10" x2="685.00" y2="1004.10" stroke="#262626" stroke-width="1.9" />
<line x1="508.30" y1="1004.10" x2="513.30" y2="1004.10" stroke="#262626" stroke-width="1.9" />
<line x1="508.30" y1="929.25" x2="513.30" y2="929.25" stroke="#262626" stroke-width="1.9" />
<line x1="508.30" y1="854.39" x2="513.30" y2="854.39" stroke="#262626" stroke-width="1.9" />
<line x1="508.30" y1="779.54" x2="513.30" y2="779.54" stroke="#262626" stroke-width="1.9" />
<line x1="508.30" y1="704.68" x2="513.30" y2="704.68" stroke="#262626" stroke-width="1.9" />
<line x1="508.30" y1="629.83" x2="513.30" y2="629.83" stroke="#262626" stroke-width="1.9" />
<line x1="578.60" y1="1004.10" x2="578.60" y2="999.10" stroke="#262626" stroke-width="1.9" />
<line x1="648.90" y1="1004.10" x2="648.90" y2="999.10" stroke="#262626" stroke-width="1.9" />
<line x1="60.40" y1="375.50" x2="500.10" y2="375.50" stroke="#ff0000" stroke-width="2.0" />
<line x1="60.40" y1="854.39" x2="500.10" y2="854.39" stroke="#ff0000" stroke-width="2.0" />
<defs><linearGradient id="cb" x1="0" x2="1" y1="0" y2="0">
<stop offset="0.0" stop-color="#2a186c"/>
<stop offset="0.05" stop-color="#2e208c"/>
<stop offset="0.1" stop-color="#2c2ca6"/>
<stop offset="0.15" stop-color="#1c42a2"/>
<stop offset="0.2" stop-color="#12529b"/>
<stop offset="0.25" stop-color="#125f96"/>
<stop offset="0.3" stop-color="#196a93"/>
<stop offset="0.35" stop-color="#227690"/>
<stop offset="0.4" stop-color="#2b828c"/>
<stop offset="0.45" stop-color="#328e89"/>
<stop offset="0.5" stop-color="#3a9a84"/>
<stop offset="0.55" stop-color="#42a57f"/>
<stop offset="0.6" stop-color="#4eb177"/>
<stop offset="0.65" stop-color="#60bb6c"/>
<stop offset="0.7" stop-color="#79c461"/>
<stop offset="0.75" stop-color="#96cc5a"/>
<stop offset="0.8" stop-color="#b4d25e"/>
<stop offset="0.85" stop-color="#cdd86e"/>
<stop offset="0.9" stop-color="#e1df80"/>
<stop offset="0.95" stop-color="#f0e78e"/>
<stop offset="1.0" stop-color="#fdef9a"/>
</linearGradient></defs>
<rect x="279.3" y="278.6" width="199.70" height="35.60" fill="url(#cb)" stroke="#262626" stroke-width="0.9"/>
<line x1="279.30" y1="278.60" x2="279.30" y2="275.60" stroke="#262626" stroke-width="0.9" />
<text transform="translate(278.50,266.30) scale(1.02,1)" font-family='"Liberation Sans", Arial, Helvetica, sans-serif' font-size="16.4" font-weight="normal" font-style="normal" text-anchor="middle" fill="#262626" >0.04</text>
<line x1="329.40" y1="278.60" x2="329.40" y2="275.60" stroke="#262626" stroke-width="0.9" />
<text transform="translate(328.60,266.30) scale(1.02,1)" font-family='"Liberation Sans", Arial, Helvetica, sans-serif' font-size="16.4" font-weight="normal" font-style="normal" text-anchor="middle" fill="#262626" >0.06</text>
<line x1="379.50" y1="278.60" x2="379.50" y2="275.60" stroke="#262626" stroke-width="0.9" />
<text transform="translate(378.70,266.30) scale(1.02,1)" font-family='"Liberation Sans", Arial, Helvetica, sans-serif' font-size="16.4" font-weight="normal" font-style="normal" text-anchor="middle" fill="#262626" >0.08</text>
<line x1="429.60" y1="278.60" x2="429.60" y2="275.60" stroke="#262626" stroke-width="0.9" />
<text transform="translate(428.80,266.30) scale(1.02,1)" font-family='"Liberation Sans", Arial, Helvetica, sans-serif' font-size="16.4" font-weight="normal" font-style="normal" text-anchor="middle" fill="#262626" >0.1</text>
<g font-family='"Liberation Serif", "Times New Roman", serif' fill="#262626" font-size="17.3">
<text x="330.0" y="241.9" textLength="39.6" lengthAdjust="spacingAndGlyphs">Mean</text>
<text x="377.6" y="241.9" font-style="italic" font-size="16.8">f</text>
<text x="383.4" y="245.4" font-style="italic" font-size="11.8" textLength="6.6" lengthAdjust="spacingAndGlyphs">p</text>
<text x="397.4" y="241.9" textLength="30.0" lengthAdjust="spacingAndGlyphs">(Hz)</text>
</g>
<polygon points="171.05,293.40 173.99,302.45 183.51,302.45 175.81,308.05 178.75,317.10 171.05,311.50 163.35,317.10 166.29,308.05 158.59,302.45 168.11,302.45" fill="#ffff00" stroke="#ff0000" stroke-width="1.6" stroke-linejoin="miter" stroke-miterlimit="10"/>
<polygon points="171.05,703.40 173.99,712.45 183.51,712.45 175.81,718.05 178.75,727.10 171.05,721.50 163.35,727.10 166.29,718.05 158.59,712.45 168.11,712.45" fill="#ffff00" stroke="#ff0000" stroke-width="1.6" stroke-linejoin="miter" stroke-miterlimit="10"/>
<text transform="translate(50.20,94.42) scale(1.02,1)" font-family='"Liberation Sans", Arial, Helvetica, sans-serif' font-size="18.5" font-weight="normal" font-style="normal" text-anchor="end" fill="#262626" >1</text>
<text transform="translate(50.20,25.42) scale(1.02,1)" font-family='"Liberation Sans", Arial, Helvetica, sans-serif' font-size="18.5" font-weight="normal" font-style="normal" text-anchor="end" fill="#262626" >2</text>
<text transform="translate(50.20,588.02) scale(1.02,1)" font-family='"Liberation Sans", Arial, Helvetica, sans-serif' font-size="18.5" font-weight="normal" font-style="normal" text-anchor="end" fill="#262626" >0</text>
<text transform="translate(50.20,505.82) scale(1.02,1)" font-family='"Liberation Sans", Arial, Helvetica, sans-serif' font-size="18.5" font-weight="normal" font-style="normal" text-anchor="end" fill="#262626" >10</text>
<text transform="translate(50.20,423.62) scale(1.02,1)" font-family='"Liberation Sans", Arial, Helvetica, sans-serif' font-size="18.5" font-weight="normal" font-style="normal" text-anchor="end" fill="#262626" >20</text>
<text transform="translate(50.20,341.42) scale(1.02,1)" font-family='"Liberation Sans", Arial, Helvetica, sans-serif' font-size="18.5" font-weight="normal" font-style="normal" text-anchor="end" fill="#262626" >30</text>
<text transform="translate(50.20,259.22) scale(1.02,1)" font-family='"Liberation Sans", Arial, Helvetica, sans-serif' font-size="18.5" font-weight="normal" font-style="normal" text-anchor="end" fill="#262626" >40</text>
<text transform="translate(50.20,177.02) scale(1.02,1)" font-family='"Liberation Sans", Arial, Helvetica, sans-serif' font-size="18.5" font-weight="normal" font-style="normal" text-anchor="end" fill="#262626" >50</text>
<text transform="translate(50.20,1010.92) scale(1.02,1)" font-family='"Liberation Sans", Arial, Helvetica, sans-serif' font-size="18.5" font-weight="normal" font-style="normal" text-anchor="end" fill="#262626" >0</text>
<text transform="translate(50.20,936.07) scale(1.02,1)" font-family='"Liberation Sans", Arial, Helvetica, sans-serif' font-size="18.5" font-weight="normal" font-style="normal" text-anchor="end" fill="#262626" >1</text>
<text transform="translate(50.20,861.21) scale(1.02,1)" font-family='"Liberation Sans", Arial, Helvetica, sans-serif' font-size="18.5" font-weight="normal" font-style="normal" text-anchor="end" fill="#262626" >2</text>
<text transform="translate(50.20,786.36) scale(1.02,1)" font-family='"Liberation Sans", Arial, Helvetica, sans-serif' font-size="18.5" font-weight="normal" font-style="normal" text-anchor="end" fill="#262626" >3</text>
<text transform="translate(50.20,711.50) scale(1.02,1)" font-family='"Liberation Sans", Arial, Helvetica, sans-serif' font-size="18.5" font-weight="normal" font-style="normal" text-anchor="end" fill="#262626" >4</text>
<text transform="translate(50.20,636.65) scale(1.02,1)" font-family='"Liberation Sans", Arial, Helvetica, sans-serif' font-size="18.5" font-weight="normal" font-style="normal" text-anchor="end" fill="#262626" >5</text>
<text transform="translate(121.00,1030.80) scale(1.02,1)" font-family='"Liberation Sans", Arial, Helvetica, sans-serif' font-size="18.5" font-weight="normal" font-style="normal" text-anchor="middle" fill="#262626" >0.02</text>
<text transform="translate(195.85,1030.80) scale(1.02,1)" font-family='"Liberation Sans", Arial, Helvetica, sans-serif' font-size="18.5" font-weight="normal" font-style="normal" text-anchor="middle" fill="#262626" >0.04</text>
<text transform="translate(270.70,1030.80) scale(1.02,1)" font-family='"Liberation Sans", Arial, Helvetica, sans-serif' font-size="18.5" font-weight="normal" font-style="normal" text-anchor="middle" fill="#262626" >0.06</text>
<text transform="translate(345.55,1030.80) scale(1.02,1)" font-family='"Liberation Sans", Arial, Helvetica, sans-serif' font-size="18.5" font-weight="normal" font-style="normal" text-anchor="middle" fill="#262626" >0.08</text>
<text transform="translate(420.40,1030.80) scale(1.02,1)" font-family='"Liberation Sans", Arial, Helvetica, sans-serif' font-size="18.5" font-weight="normal" font-style="normal" text-anchor="middle" fill="#262626" >0.1</text>
<text transform="translate(495.25,1030.80) scale(1.02,1)" font-family='"Liberation Sans", Arial, Helvetica, sans-serif' font-size="18.5" font-weight="normal" font-style="normal" text-anchor="middle" fill="#262626" >0.12</text>
<text transform="translate(578.60,1030.80) scale(1.02,1)" font-family='"Liberation Sans", Arial, Helvetica, sans-serif' font-size="18.5" font-weight="normal" font-style="normal" text-anchor="middle" fill="#262626" >1</text>
<text transform="translate(648.90,1030.80) scale(1.02,1)" font-family='"Liberation Sans", Arial, Helvetica, sans-serif' font-size="18.5" font-weight="normal" font-style="normal" text-anchor="middle" fill="#262626" >2</text>
<text x="456.20" y="25.00" font-family='"Liberation Sans", Arial, Helvetica, sans-serif' font-size="33.5" font-weight="bold" font-style="normal" text-anchor="start" fill="#262626" style="fill:#000">a</text>
<text x="457.00" y="211.90" font-family='"Liberation Sans", Arial, Helvetica, sans-serif' font-size="33.5" font-weight="bold" font-style="normal" text-anchor="start" fill="#262626" style="fill:#000">b</text>
<text x="526.00" y="211.90" font-family='"Liberation Sans", Arial, Helvetica, sans-serif' font-size="33.5" font-weight="bold" font-style="normal" text-anchor="start" fill="#262626" style="fill:#000">c</text>
<text x="456.60" y="634.40" font-family='"Liberation Sans", Arial, Helvetica, sans-serif' font-size="33.5" font-weight="bold" font-style="normal" text-anchor="start" fill="#262626" style="fill:#000">d</text>
<text x="525.60" y="634.40" font-family='"Liberation Sans", Arial, Helvetica, sans-serif' font-size="33.5" font-weight="bold" font-style="normal" text-anchor="start" fill="#262626" style="fill:#000">e</text>
<text x="177.4" y="1054.7" font-family='"Liberation Serif", "Times New Roman", serif' font-size="20.5" fill="#262626" textLength="89.0" lengthAdjust="spacingAndGlyphs">Frequency</text>
<text x="275.1" y="1054.7" font-family='"Liberation Serif", "Times New Roman", serif' font-size="20.5" fill="#262626" textLength="59.2" lengthAdjust="spacingAndGlyphs">Spread</text>
<text x="343.9" y="1054.7" font-family='"Liberation Serif", "Times New Roman", serif' font-size="20.5" fill="#262626" textLength="37.7" lengthAdjust="spacingAndGlyphs">(Hz)</text>
<g transform="translate(534.6,1054.8)" font-family='"Liberation Serif", "Times New Roman", serif' fill="#262626">
<text x="0" y="0" font-size="20.5" textLength="56.7" lengthAdjust="spacingAndGlyphs">counts</text>
<text x="65.3" y="0" font-size="20.5" textLength="43.0" lengthAdjust="spacingAndGlyphs">(×10</text>
<text x="108.4" y="-7.6" font-size="14.5" textLength="6.6" lengthAdjust="spacingAndGlyphs">4</text>
<text x="115.6" y="0" font-size="20.5" textLength="6.8" lengthAdjust="spacingAndGlyphs">)</text>
</g>
<g transform="translate(28.0,140.2) rotate(-90)" font-family='"Liberation Serif", "Times New Roman", serif' fill="#262626">
<text x="0" y="0" font-size="20.5" textLength="56.7" lengthAdjust="spacingAndGlyphs">counts</text>
<text x="65.3" y="0" font-size="20.5" textLength="43.0" lengthAdjust="spacingAndGlyphs">(×10</text>
<text x="108.4" y="-7.6" font-size="14.5" textLength="6.6" lengthAdjust="spacingAndGlyphs">4</text>
<text x="115.6" y="0" font-size="20.5" textLength="6.8" lengthAdjust="spacingAndGlyphs">)</text>
</g>
<text transform="translate(28.1,798.6) rotate(-90)" font-family='"Liberation Serif", "Times New Roman", serif' font-size="21" text-anchor="middle" fill="#262626" textLength="62.8" lengthAdjust="spacingAndGlyphs"><tspan font-style="italic">H</tspan><tspan font-size="16" dy="2.6">0</tspan><tspan dy="-2.6"> (m)</tspan></text>
<g transform="translate(17.2,375.0) rotate(-90)" font-family='"Liberation Serif", "Times New Roman", serif' fill="#262626">
<text x="-50.40" y="1.50" font-size="25" font-style="normal" textLength="14.20" lengthAdjust="spacingAndGlyphs">√</text>
<text x="-33.40" y="0.00" font-size="21.5" font-style="italic" textLength="17.60" lengthAdjust="spacingAndGlyphs">H</text>
<text x="-17.00" y="2.20" font-size="15.7" font-style="normal" textLength="6.60" lengthAdjust="spacingAndGlyphs">0</text>
<text x="-9.50" y="0.00" font-size="21.5" font-style="italic" textLength="13.60" lengthAdjust="spacingAndGlyphs">L</text>
<text x="4.30" y="2.20" font-size="15.7" font-style="normal" textLength="6.60" lengthAdjust="spacingAndGlyphs">0</text>
<text x="23.00" y="0.00" font-size="21.5" font-style="normal" textLength="27.10" lengthAdjust="spacingAndGlyphs">(m)</text>
<line x1="-36.0" y1="-16.7" x2="12.0" y2="-16.7" stroke="#262626" stroke-width="1.1"/>
</g>
</svg>
</body></html>
